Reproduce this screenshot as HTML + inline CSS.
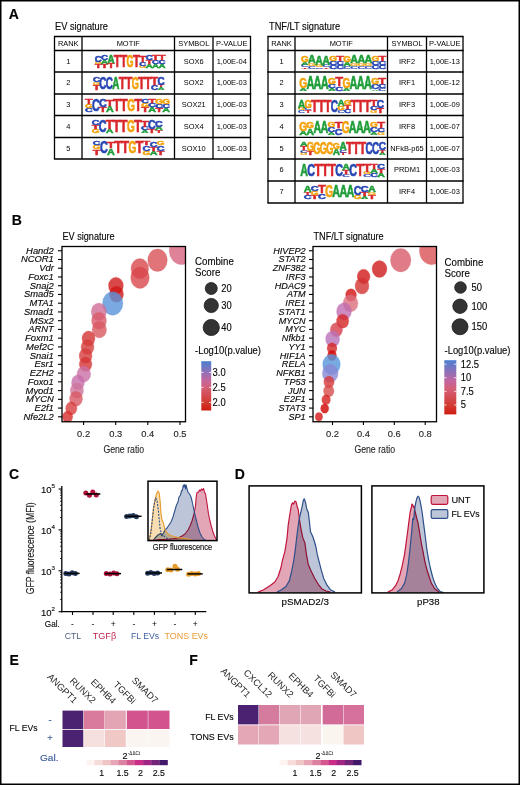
<!DOCTYPE html>
<html><head><meta charset="utf-8"><style>
html,body{margin:0;padding:0;background:#fff;}
svg{display:block;}
text{font-family:"Liberation Sans",sans-serif;}
.th{stroke:currentColor;stroke-width:0.25px;}
</style></head><body>
<svg width="520" height="785" viewBox="0 0 520 785">
<rect x="0" y="0" width="520" height="785" fill="#fff"/>
<rect x="0.75" y="0.75" width="518.50" height="783.50" fill="none" stroke="#000" stroke-width="1.5"/>
<text x="8.70" y="19.00" font-size="14" font-weight="bold" fill="#000" stroke="#000" stroke-width="0.14">A</text>
<text x="11.80" y="225.40" font-size="14" font-weight="bold" fill="#000" stroke="#000" stroke-width="0.14">B</text>
<text x="9.10" y="478.80" font-size="14" font-weight="bold" fill="#000" stroke="#000" stroke-width="0.14">C</text>
<text x="234.70" y="478.60" font-size="14" font-weight="bold" fill="#000" stroke="#000" stroke-width="0.14">D</text>
<text x="9.50" y="665.00" font-size="14" font-weight="bold" fill="#000" stroke="#000" stroke-width="0.14">E</text>
<text x="189.30" y="665.00" font-size="14" font-weight="bold" fill="#000" stroke="#000" stroke-width="0.14">F</text>
<text x="55.00" y="30.40" font-size="10.2" textLength="53.01" lengthAdjust="spacingAndGlyphs" stroke="#231f20" stroke-width="0.14">EV signature</text>
<line x1="53.90" y1="36.50" x2="251.10" y2="36.50" stroke="#000" stroke-width="1.3"/>
<line x1="53.90" y1="50.50" x2="251.10" y2="50.50" stroke="#000" stroke-width="1.3"/>
<line x1="53.90" y1="72.00" x2="251.10" y2="72.00" stroke="#000" stroke-width="1.3"/>
<line x1="53.90" y1="94.00" x2="251.10" y2="94.00" stroke="#000" stroke-width="1.3"/>
<line x1="53.90" y1="115.50" x2="251.10" y2="115.50" stroke="#000" stroke-width="1.3"/>
<line x1="53.90" y1="137.50" x2="251.10" y2="137.50" stroke="#000" stroke-width="1.3"/>
<line x1="53.90" y1="159.00" x2="251.10" y2="159.00" stroke="#000" stroke-width="1.3"/>
<line x1="54.50" y1="36.50" x2="54.50" y2="159.00" stroke="#000" stroke-width="1.3"/>
<line x1="82.00" y1="36.50" x2="82.00" y2="159.00" stroke="#000" stroke-width="1.3"/>
<line x1="174.50" y1="36.50" x2="174.50" y2="159.00" stroke="#000" stroke-width="1.3"/>
<line x1="213.00" y1="36.50" x2="213.00" y2="159.00" stroke="#000" stroke-width="1.3"/>
<line x1="250.50" y1="36.50" x2="250.50" y2="159.00" stroke="#000" stroke-width="1.3"/>
<text x="68.25" y="46.35" font-size="8.0" text-anchor="middle" textLength="20.70" lengthAdjust="spacingAndGlyphs" >RANK</text>
<text x="128.25" y="46.35" font-size="8.0" text-anchor="middle" textLength="23.17" lengthAdjust="spacingAndGlyphs" >MOTIF</text>
<text x="193.75" y="46.35" font-size="8.0" text-anchor="middle" textLength="31.05" lengthAdjust="spacingAndGlyphs" >SYMBOL</text>
<text x="231.75" y="46.35" font-size="8.0" text-anchor="middle" textLength="31.33" lengthAdjust="spacingAndGlyphs" >P-VALUE</text>
<text x="68.25" y="63.60" font-size="8.0" text-anchor="middle" textLength="4.14" lengthAdjust="spacingAndGlyphs" >1</text>
<text x="193.75" y="63.60" font-size="8.0" text-anchor="middle" textLength="19.88" lengthAdjust="spacingAndGlyphs" >SOX6</text>
<text x="231.75" y="63.60" font-size="8.0" text-anchor="middle" textLength="30.23" lengthAdjust="spacingAndGlyphs" >1,00E-04</text>
<text x="68.25" y="85.35" font-size="8.0" text-anchor="middle" textLength="4.14" lengthAdjust="spacingAndGlyphs" >2</text>
<text x="193.75" y="85.35" font-size="8.0" text-anchor="middle" textLength="19.88" lengthAdjust="spacingAndGlyphs" >SOX2</text>
<text x="231.75" y="85.35" font-size="8.0" text-anchor="middle" textLength="30.23" lengthAdjust="spacingAndGlyphs" >1,00E-03</text>
<text x="68.25" y="107.10" font-size="8.0" text-anchor="middle" textLength="4.14" lengthAdjust="spacingAndGlyphs" >3</text>
<text x="193.75" y="107.10" font-size="8.0" text-anchor="middle" textLength="24.02" lengthAdjust="spacingAndGlyphs" >SOX21</text>
<text x="231.75" y="107.10" font-size="8.0" text-anchor="middle" textLength="30.23" lengthAdjust="spacingAndGlyphs" >1,00E-03</text>
<text x="68.25" y="128.85" font-size="8.0" text-anchor="middle" textLength="4.14" lengthAdjust="spacingAndGlyphs" >4</text>
<text x="193.75" y="128.85" font-size="8.0" text-anchor="middle" textLength="19.88" lengthAdjust="spacingAndGlyphs" >SOX4</text>
<text x="231.75" y="128.85" font-size="8.0" text-anchor="middle" textLength="30.23" lengthAdjust="spacingAndGlyphs" >1,00E-03</text>
<text x="68.25" y="150.60" font-size="8.0" text-anchor="middle" textLength="4.14" lengthAdjust="spacingAndGlyphs" >5</text>
<text x="193.75" y="150.60" font-size="8.0" text-anchor="middle" textLength="24.02" lengthAdjust="spacingAndGlyphs" >SOX10</text>
<text x="231.75" y="150.60" font-size="8.0" text-anchor="middle" textLength="30.23" lengthAdjust="spacingAndGlyphs" >1,00E-03</text>
<text x="269.00" y="30.40" font-size="10.2" textLength="71.18" lengthAdjust="spacingAndGlyphs" stroke="#231f20" stroke-width="0.14">TNF/LT signature</text>
<line x1="267.40" y1="36.50" x2="463.60" y2="36.50" stroke="#000" stroke-width="1.3"/>
<line x1="267.40" y1="50.50" x2="463.60" y2="50.50" stroke="#000" stroke-width="1.3"/>
<line x1="267.40" y1="72.00" x2="463.60" y2="72.00" stroke="#000" stroke-width="1.3"/>
<line x1="267.40" y1="94.00" x2="463.60" y2="94.00" stroke="#000" stroke-width="1.3"/>
<line x1="267.40" y1="115.50" x2="463.60" y2="115.50" stroke="#000" stroke-width="1.3"/>
<line x1="267.40" y1="137.30" x2="463.60" y2="137.30" stroke="#000" stroke-width="1.3"/>
<line x1="267.40" y1="159.00" x2="463.60" y2="159.00" stroke="#000" stroke-width="1.3"/>
<line x1="267.40" y1="181.00" x2="463.60" y2="181.00" stroke="#000" stroke-width="1.3"/>
<line x1="267.40" y1="203.00" x2="463.60" y2="203.00" stroke="#000" stroke-width="1.3"/>
<line x1="268.00" y1="36.50" x2="268.00" y2="203.00" stroke="#000" stroke-width="1.3"/>
<line x1="295.00" y1="36.50" x2="295.00" y2="203.00" stroke="#000" stroke-width="1.3"/>
<line x1="387.50" y1="36.50" x2="387.50" y2="203.00" stroke="#000" stroke-width="1.3"/>
<line x1="426.50" y1="36.50" x2="426.50" y2="203.00" stroke="#000" stroke-width="1.3"/>
<line x1="463.00" y1="36.50" x2="463.00" y2="203.00" stroke="#000" stroke-width="1.3"/>
<text x="281.50" y="46.35" font-size="8.0" text-anchor="middle" textLength="20.70" lengthAdjust="spacingAndGlyphs" >RANK</text>
<text x="341.25" y="46.35" font-size="8.0" text-anchor="middle" textLength="23.17" lengthAdjust="spacingAndGlyphs" >MOTIF</text>
<text x="407.00" y="46.35" font-size="8.0" text-anchor="middle" textLength="31.05" lengthAdjust="spacingAndGlyphs" >SYMBOL</text>
<text x="444.75" y="46.35" font-size="8.0" text-anchor="middle" textLength="31.33" lengthAdjust="spacingAndGlyphs" >P-VALUE</text>
<text x="281.50" y="63.60" font-size="8.0" text-anchor="middle" textLength="4.14" lengthAdjust="spacingAndGlyphs" >1</text>
<text x="407.00" y="63.60" font-size="8.0" text-anchor="middle" textLength="16.14" lengthAdjust="spacingAndGlyphs" >IRF2</text>
<text x="444.75" y="63.60" font-size="8.0" text-anchor="middle" textLength="30.23" lengthAdjust="spacingAndGlyphs" >1,00E-13</text>
<text x="281.50" y="85.35" font-size="8.0" text-anchor="middle" textLength="4.14" lengthAdjust="spacingAndGlyphs" >2</text>
<text x="407.00" y="85.35" font-size="8.0" text-anchor="middle" textLength="16.14" lengthAdjust="spacingAndGlyphs" >IRF1</text>
<text x="444.75" y="85.35" font-size="8.0" text-anchor="middle" textLength="30.23" lengthAdjust="spacingAndGlyphs" >1,00E-12</text>
<text x="281.50" y="107.10" font-size="8.0" text-anchor="middle" textLength="4.14" lengthAdjust="spacingAndGlyphs" >3</text>
<text x="407.00" y="107.10" font-size="8.0" text-anchor="middle" textLength="16.14" lengthAdjust="spacingAndGlyphs" >IRF3</text>
<text x="444.75" y="107.10" font-size="8.0" text-anchor="middle" textLength="30.23" lengthAdjust="spacingAndGlyphs" >1,00E-09</text>
<text x="281.50" y="128.75" font-size="8.0" text-anchor="middle" textLength="4.14" lengthAdjust="spacingAndGlyphs" >4</text>
<text x="407.00" y="128.75" font-size="8.0" text-anchor="middle" textLength="16.14" lengthAdjust="spacingAndGlyphs" >IRF8</text>
<text x="444.75" y="128.75" font-size="8.0" text-anchor="middle" textLength="30.23" lengthAdjust="spacingAndGlyphs" >1,00E-07</text>
<text x="281.50" y="150.50" font-size="8.0" text-anchor="middle" textLength="4.14" lengthAdjust="spacingAndGlyphs" >5</text>
<text x="407.00" y="150.50" font-size="8.0" text-anchor="middle" textLength="33.53" lengthAdjust="spacingAndGlyphs" >NFkB-p65</text>
<text x="444.75" y="150.50" font-size="8.0" text-anchor="middle" textLength="30.23" lengthAdjust="spacingAndGlyphs" >1,00E-07</text>
<text x="281.50" y="172.35" font-size="8.0" text-anchor="middle" textLength="4.14" lengthAdjust="spacingAndGlyphs" >6</text>
<text x="407.00" y="172.35" font-size="8.0" text-anchor="middle" textLength="26.08" lengthAdjust="spacingAndGlyphs" >PRDM1</text>
<text x="444.75" y="172.35" font-size="8.0" text-anchor="middle" textLength="30.23" lengthAdjust="spacingAndGlyphs" >1,00E-03</text>
<text x="281.50" y="194.35" font-size="8.0" text-anchor="middle" textLength="4.14" lengthAdjust="spacingAndGlyphs" >7</text>
<text x="407.00" y="194.35" font-size="8.0" text-anchor="middle" textLength="16.14" lengthAdjust="spacingAndGlyphs" >IRF4</text>
<text x="444.75" y="194.35" font-size="8.0" text-anchor="middle" textLength="30.23" lengthAdjust="spacingAndGlyphs" >1,00E-03</text>
<text transform="translate(94.68,68.10) scale(1.149,0.526)" font-size="10" font-weight="bold" fill="#d8262c" stroke="#d8262c" stroke-width="0.55" vector-effect="non-scaling-stroke">T</text>
<text transform="translate(94.68,64.29) scale(0.902,0.350)" font-size="10" font-weight="bold" fill="#f3a20c" stroke="#f3a20c" stroke-width="0.25" vector-effect="non-scaling-stroke">G</text>
<text transform="translate(94.68,61.75) scale(0.972,0.876)" font-size="10" font-weight="bold" fill="#2747b4" stroke="#2747b4" stroke-width="0.55" vector-effect="non-scaling-stroke">C</text>
<text transform="translate(101.06,68.10) scale(1.149,0.526)" font-size="10" font-weight="bold" fill="#d8262c" stroke="#d8262c" stroke-width="0.55" vector-effect="non-scaling-stroke">T</text>
<text transform="translate(101.06,64.29) scale(0.972,0.526)" font-size="10" font-weight="bold" fill="#1f9d3a" stroke="#1f9d3a" stroke-width="0.55" vector-effect="non-scaling-stroke">A</text>
<text transform="translate(101.06,60.48) scale(0.972,0.701)" font-size="10" font-weight="bold" fill="#2747b4" stroke="#2747b4" stroke-width="0.55" vector-effect="non-scaling-stroke">C</text>
<text transform="translate(107.44,68.10) scale(1.149,0.701)" font-size="10" font-weight="bold" fill="#d8262c" stroke="#d8262c" stroke-width="0.55" vector-effect="non-scaling-stroke">T</text>
<text transform="translate(107.44,63.02) scale(0.972,1.051)" font-size="10" font-weight="bold" fill="#1f9d3a" stroke="#1f9d3a" stroke-width="0.55" vector-effect="non-scaling-stroke">A</text>
<text transform="translate(113.83,68.10) scale(0.902,0.058)" font-size="10" font-weight="bold" fill="#f3a20c" stroke="#f3a20c" stroke-width="0.25" vector-effect="non-scaling-stroke">G</text>
<text transform="translate(113.83,67.68) scale(0.972,0.058)" font-size="10" font-weight="bold" fill="#2747b4" stroke="#2747b4" stroke-width="0.25" vector-effect="non-scaling-stroke">C</text>
<text transform="translate(113.83,67.26) scale(0.972,0.058)" font-size="10" font-weight="bold" fill="#1f9d3a" stroke="#1f9d3a" stroke-width="0.25" vector-effect="non-scaling-stroke">A</text>
<text transform="translate(113.83,66.84) scale(1.149,1.577)" font-size="10" font-weight="bold" fill="#d8262c" stroke="#d8262c" stroke-width="0.55" vector-effect="non-scaling-stroke">T</text>
<text transform="translate(120.21,68.10) scale(0.902,0.058)" font-size="10" font-weight="bold" fill="#f3a20c" stroke="#f3a20c" stroke-width="0.25" vector-effect="non-scaling-stroke">G</text>
<text transform="translate(120.21,67.68) scale(0.972,0.058)" font-size="10" font-weight="bold" fill="#2747b4" stroke="#2747b4" stroke-width="0.25" vector-effect="non-scaling-stroke">C</text>
<text transform="translate(120.21,67.26) scale(0.972,0.058)" font-size="10" font-weight="bold" fill="#1f9d3a" stroke="#1f9d3a" stroke-width="0.25" vector-effect="non-scaling-stroke">A</text>
<text transform="translate(120.21,66.84) scale(1.149,1.577)" font-size="10" font-weight="bold" fill="#d8262c" stroke="#d8262c" stroke-width="0.55" vector-effect="non-scaling-stroke">T</text>
<text transform="translate(126.59,68.10) scale(1.149,0.058)" font-size="10" font-weight="bold" fill="#d8262c" stroke="#d8262c" stroke-width="0.25" vector-effect="non-scaling-stroke">T</text>
<text transform="translate(126.59,67.68) scale(0.972,0.058)" font-size="10" font-weight="bold" fill="#2747b4" stroke="#2747b4" stroke-width="0.25" vector-effect="non-scaling-stroke">C</text>
<text transform="translate(126.59,67.26) scale(0.972,0.058)" font-size="10" font-weight="bold" fill="#1f9d3a" stroke="#1f9d3a" stroke-width="0.25" vector-effect="non-scaling-stroke">A</text>
<text transform="translate(126.59,66.84) scale(0.902,1.577)" font-size="10" font-weight="bold" fill="#f3a20c" stroke="#f3a20c" stroke-width="0.55" vector-effect="non-scaling-stroke">G</text>
<text transform="translate(132.97,68.10) scale(0.902,0.058)" font-size="10" font-weight="bold" fill="#f3a20c" stroke="#f3a20c" stroke-width="0.25" vector-effect="non-scaling-stroke">G</text>
<text transform="translate(132.97,67.68) scale(0.972,0.058)" font-size="10" font-weight="bold" fill="#2747b4" stroke="#2747b4" stroke-width="0.25" vector-effect="non-scaling-stroke">C</text>
<text transform="translate(132.97,67.26) scale(0.972,0.058)" font-size="10" font-weight="bold" fill="#1f9d3a" stroke="#1f9d3a" stroke-width="0.25" vector-effect="non-scaling-stroke">A</text>
<text transform="translate(132.97,66.84) scale(1.149,1.577)" font-size="10" font-weight="bold" fill="#d8262c" stroke="#d8262c" stroke-width="0.55" vector-effect="non-scaling-stroke">T</text>
<text transform="translate(139.35,68.10) scale(0.902,0.350)" font-size="10" font-weight="bold" fill="#f3a20c" stroke="#f3a20c" stroke-width="0.25" vector-effect="non-scaling-stroke">G</text>
<text transform="translate(139.35,65.56) scale(0.972,0.526)" font-size="10" font-weight="bold" fill="#2747b4" stroke="#2747b4" stroke-width="0.55" vector-effect="non-scaling-stroke">C</text>
<text transform="translate(139.35,61.75) scale(1.149,0.876)" font-size="10" font-weight="bold" fill="#d8262c" stroke="#d8262c" stroke-width="0.55" vector-effect="non-scaling-stroke">T</text>
<text transform="translate(145.74,68.10) scale(0.972,0.526)" font-size="10" font-weight="bold" fill="#1f9d3a" stroke="#1f9d3a" stroke-width="0.55" vector-effect="non-scaling-stroke">A</text>
<text transform="translate(145.74,64.29) scale(1.149,0.526)" font-size="10" font-weight="bold" fill="#d8262c" stroke="#d8262c" stroke-width="0.55" vector-effect="non-scaling-stroke">T</text>
<text transform="translate(145.74,60.48) scale(0.972,0.701)" font-size="10" font-weight="bold" fill="#2747b4" stroke="#2747b4" stroke-width="0.55" vector-effect="non-scaling-stroke">C</text>
<text transform="translate(152.12,68.10) scale(0.972,0.526)" font-size="10" font-weight="bold" fill="#1f9d3a" stroke="#1f9d3a" stroke-width="0.55" vector-effect="non-scaling-stroke">A</text>
<text transform="translate(152.12,64.29) scale(0.972,0.526)" font-size="10" font-weight="bold" fill="#2747b4" stroke="#2747b4" stroke-width="0.55" vector-effect="non-scaling-stroke">C</text>
<text transform="translate(152.12,60.48) scale(1.149,0.701)" font-size="10" font-weight="bold" fill="#d8262c" stroke="#d8262c" stroke-width="0.55" vector-effect="non-scaling-stroke">T</text>
<text transform="translate(158.50,68.10) scale(0.972,0.526)" font-size="10" font-weight="bold" fill="#1f9d3a" stroke="#1f9d3a" stroke-width="0.55" vector-effect="non-scaling-stroke">A</text>
<text transform="translate(158.50,64.29) scale(0.972,0.526)" font-size="10" font-weight="bold" fill="#2747b4" stroke="#2747b4" stroke-width="0.55" vector-effect="non-scaling-stroke">C</text>
<text transform="translate(158.50,60.48) scale(1.149,0.701)" font-size="10" font-weight="bold" fill="#d8262c" stroke="#d8262c" stroke-width="0.55" vector-effect="non-scaling-stroke">T</text>
<text transform="translate(92.88,89.80) scale(1.164,0.701)" font-size="10" font-weight="bold" fill="#d8262c" stroke="#d8262c" stroke-width="0.55" vector-effect="non-scaling-stroke">T</text>
<text transform="translate(92.88,84.72) scale(0.914,0.350)" font-size="10" font-weight="bold" fill="#f3a20c" stroke="#f3a20c" stroke-width="0.25" vector-effect="non-scaling-stroke">G</text>
<text transform="translate(92.88,82.18) scale(0.985,0.701)" font-size="10" font-weight="bold" fill="#2747b4" stroke="#2747b4" stroke-width="0.55" vector-effect="non-scaling-stroke">C</text>
<text transform="translate(99.34,89.80) scale(1.164,0.058)" font-size="10" font-weight="bold" fill="#d8262c" stroke="#d8262c" stroke-width="0.25" vector-effect="non-scaling-stroke">T</text>
<text transform="translate(99.34,89.38) scale(0.914,0.058)" font-size="10" font-weight="bold" fill="#f3a20c" stroke="#f3a20c" stroke-width="0.25" vector-effect="non-scaling-stroke">G</text>
<text transform="translate(99.34,88.96) scale(0.985,0.058)" font-size="10" font-weight="bold" fill="#1f9d3a" stroke="#1f9d3a" stroke-width="0.25" vector-effect="non-scaling-stroke">A</text>
<text transform="translate(99.34,88.54) scale(0.985,1.577)" font-size="10" font-weight="bold" fill="#2747b4" stroke="#2747b4" stroke-width="0.55" vector-effect="non-scaling-stroke">C</text>
<text transform="translate(105.80,89.80) scale(1.164,0.058)" font-size="10" font-weight="bold" fill="#d8262c" stroke="#d8262c" stroke-width="0.25" vector-effect="non-scaling-stroke">T</text>
<text transform="translate(105.80,89.38) scale(0.914,0.058)" font-size="10" font-weight="bold" fill="#f3a20c" stroke="#f3a20c" stroke-width="0.25" vector-effect="non-scaling-stroke">G</text>
<text transform="translate(105.80,88.96) scale(0.985,0.058)" font-size="10" font-weight="bold" fill="#1f9d3a" stroke="#1f9d3a" stroke-width="0.25" vector-effect="non-scaling-stroke">A</text>
<text transform="translate(105.80,88.54) scale(0.985,1.577)" font-size="10" font-weight="bold" fill="#2747b4" stroke="#2747b4" stroke-width="0.55" vector-effect="non-scaling-stroke">C</text>
<text transform="translate(112.27,89.80) scale(1.164,0.058)" font-size="10" font-weight="bold" fill="#d8262c" stroke="#d8262c" stroke-width="0.25" vector-effect="non-scaling-stroke">T</text>
<text transform="translate(112.27,89.38) scale(0.914,0.058)" font-size="10" font-weight="bold" fill="#f3a20c" stroke="#f3a20c" stroke-width="0.25" vector-effect="non-scaling-stroke">G</text>
<text transform="translate(112.27,88.96) scale(0.985,0.058)" font-size="10" font-weight="bold" fill="#2747b4" stroke="#2747b4" stroke-width="0.25" vector-effect="non-scaling-stroke">C</text>
<text transform="translate(112.27,88.54) scale(0.985,1.577)" font-size="10" font-weight="bold" fill="#1f9d3a" stroke="#1f9d3a" stroke-width="0.55" vector-effect="non-scaling-stroke">A</text>
<text transform="translate(118.73,89.80) scale(0.914,0.058)" font-size="10" font-weight="bold" fill="#f3a20c" stroke="#f3a20c" stroke-width="0.25" vector-effect="non-scaling-stroke">G</text>
<text transform="translate(118.73,89.38) scale(0.985,0.058)" font-size="10" font-weight="bold" fill="#2747b4" stroke="#2747b4" stroke-width="0.25" vector-effect="non-scaling-stroke">C</text>
<text transform="translate(118.73,88.96) scale(0.985,0.058)" font-size="10" font-weight="bold" fill="#1f9d3a" stroke="#1f9d3a" stroke-width="0.25" vector-effect="non-scaling-stroke">A</text>
<text transform="translate(118.73,88.54) scale(1.164,1.577)" font-size="10" font-weight="bold" fill="#d8262c" stroke="#d8262c" stroke-width="0.55" vector-effect="non-scaling-stroke">T</text>
<text transform="translate(125.20,89.80) scale(0.914,0.058)" font-size="10" font-weight="bold" fill="#f3a20c" stroke="#f3a20c" stroke-width="0.25" vector-effect="non-scaling-stroke">G</text>
<text transform="translate(125.20,89.38) scale(0.985,0.058)" font-size="10" font-weight="bold" fill="#2747b4" stroke="#2747b4" stroke-width="0.25" vector-effect="non-scaling-stroke">C</text>
<text transform="translate(125.20,88.96) scale(0.985,0.058)" font-size="10" font-weight="bold" fill="#1f9d3a" stroke="#1f9d3a" stroke-width="0.25" vector-effect="non-scaling-stroke">A</text>
<text transform="translate(125.20,88.54) scale(1.164,1.577)" font-size="10" font-weight="bold" fill="#d8262c" stroke="#d8262c" stroke-width="0.55" vector-effect="non-scaling-stroke">T</text>
<text transform="translate(131.66,89.80) scale(1.164,0.058)" font-size="10" font-weight="bold" fill="#d8262c" stroke="#d8262c" stroke-width="0.25" vector-effect="non-scaling-stroke">T</text>
<text transform="translate(131.66,89.38) scale(0.985,0.058)" font-size="10" font-weight="bold" fill="#2747b4" stroke="#2747b4" stroke-width="0.25" vector-effect="non-scaling-stroke">C</text>
<text transform="translate(131.66,88.96) scale(0.985,0.058)" font-size="10" font-weight="bold" fill="#1f9d3a" stroke="#1f9d3a" stroke-width="0.25" vector-effect="non-scaling-stroke">A</text>
<text transform="translate(131.66,88.54) scale(0.914,1.577)" font-size="10" font-weight="bold" fill="#f3a20c" stroke="#f3a20c" stroke-width="0.55" vector-effect="non-scaling-stroke">G</text>
<text transform="translate(138.12,89.80) scale(0.914,0.058)" font-size="10" font-weight="bold" fill="#f3a20c" stroke="#f3a20c" stroke-width="0.25" vector-effect="non-scaling-stroke">G</text>
<text transform="translate(138.12,89.38) scale(0.985,0.058)" font-size="10" font-weight="bold" fill="#2747b4" stroke="#2747b4" stroke-width="0.25" vector-effect="non-scaling-stroke">C</text>
<text transform="translate(138.12,88.96) scale(0.985,0.058)" font-size="10" font-weight="bold" fill="#1f9d3a" stroke="#1f9d3a" stroke-width="0.25" vector-effect="non-scaling-stroke">A</text>
<text transform="translate(138.12,88.54) scale(1.164,1.577)" font-size="10" font-weight="bold" fill="#d8262c" stroke="#d8262c" stroke-width="0.55" vector-effect="non-scaling-stroke">T</text>
<text transform="translate(144.59,89.80) scale(0.914,0.058)" font-size="10" font-weight="bold" fill="#f3a20c" stroke="#f3a20c" stroke-width="0.25" vector-effect="non-scaling-stroke">G</text>
<text transform="translate(144.59,89.38) scale(0.985,0.058)" font-size="10" font-weight="bold" fill="#2747b4" stroke="#2747b4" stroke-width="0.25" vector-effect="non-scaling-stroke">C</text>
<text transform="translate(144.59,88.96) scale(0.985,0.058)" font-size="10" font-weight="bold" fill="#1f9d3a" stroke="#1f9d3a" stroke-width="0.25" vector-effect="non-scaling-stroke">A</text>
<text transform="translate(144.59,88.54) scale(1.164,1.577)" font-size="10" font-weight="bold" fill="#d8262c" stroke="#d8262c" stroke-width="0.55" vector-effect="non-scaling-stroke">T</text>
<text transform="translate(151.05,89.80) scale(0.985,0.701)" font-size="10" font-weight="bold" fill="#2747b4" stroke="#2747b4" stroke-width="0.55" vector-effect="non-scaling-stroke">C</text>
<text transform="translate(151.05,84.72) scale(1.164,1.051)" font-size="10" font-weight="bold" fill="#d8262c" stroke="#d8262c" stroke-width="0.55" vector-effect="non-scaling-stroke">T</text>
<text transform="translate(157.51,89.80) scale(0.985,0.350)" font-size="10" font-weight="bold" fill="#1f9d3a" stroke="#1f9d3a" stroke-width="0.25" vector-effect="non-scaling-stroke">A</text>
<text transform="translate(157.51,87.26) scale(1.164,0.350)" font-size="10" font-weight="bold" fill="#d8262c" stroke="#d8262c" stroke-width="0.25" vector-effect="non-scaling-stroke">T</text>
<text transform="translate(157.51,84.72) scale(0.985,1.051)" font-size="10" font-weight="bold" fill="#2747b4" stroke="#2747b4" stroke-width="0.55" vector-effect="non-scaling-stroke">C</text>
<text transform="translate(84.95,112.00) scale(1.072,0.538)" font-size="10" font-weight="bold" fill="#2747b4" stroke="#2747b4" stroke-width="0.55" vector-effect="non-scaling-stroke">C</text>
<text transform="translate(84.95,108.10) scale(0.994,0.538)" font-size="10" font-weight="bold" fill="#f3a20c" stroke="#f3a20c" stroke-width="0.55" vector-effect="non-scaling-stroke">G</text>
<text transform="translate(84.95,104.20) scale(1.266,0.717)" font-size="10" font-weight="bold" fill="#d8262c" stroke="#d8262c" stroke-width="0.55" vector-effect="non-scaling-stroke">T</text>
<text transform="translate(91.98,112.00) scale(1.266,0.059)" font-size="10" font-weight="bold" fill="#d8262c" stroke="#d8262c" stroke-width="0.25" vector-effect="non-scaling-stroke">T</text>
<text transform="translate(91.98,111.57) scale(0.994,0.059)" font-size="10" font-weight="bold" fill="#f3a20c" stroke="#f3a20c" stroke-width="0.25" vector-effect="non-scaling-stroke">G</text>
<text transform="translate(91.98,111.14) scale(1.072,0.059)" font-size="10" font-weight="bold" fill="#1f9d3a" stroke="#1f9d3a" stroke-width="0.25" vector-effect="non-scaling-stroke">A</text>
<text transform="translate(91.98,110.71) scale(1.072,1.614)" font-size="10" font-weight="bold" fill="#2747b4" stroke="#2747b4" stroke-width="0.55" vector-effect="non-scaling-stroke">C</text>
<text transform="translate(99.01,112.00) scale(1.266,0.717)" font-size="10" font-weight="bold" fill="#d8262c" stroke="#d8262c" stroke-width="0.55" vector-effect="non-scaling-stroke">T</text>
<text transform="translate(99.01,106.80) scale(1.072,1.076)" font-size="10" font-weight="bold" fill="#2747b4" stroke="#2747b4" stroke-width="0.55" vector-effect="non-scaling-stroke">C</text>
<text transform="translate(106.05,112.00) scale(1.072,0.897)" font-size="10" font-weight="bold" fill="#1f9d3a" stroke="#1f9d3a" stroke-width="0.55" vector-effect="non-scaling-stroke">A</text>
<text transform="translate(106.05,105.50) scale(1.266,0.897)" font-size="10" font-weight="bold" fill="#d8262c" stroke="#d8262c" stroke-width="0.55" vector-effect="non-scaling-stroke">T</text>
<text transform="translate(113.08,112.00) scale(0.994,0.059)" font-size="10" font-weight="bold" fill="#f3a20c" stroke="#f3a20c" stroke-width="0.25" vector-effect="non-scaling-stroke">G</text>
<text transform="translate(113.08,111.57) scale(1.072,0.059)" font-size="10" font-weight="bold" fill="#2747b4" stroke="#2747b4" stroke-width="0.25" vector-effect="non-scaling-stroke">C</text>
<text transform="translate(113.08,111.14) scale(1.072,0.059)" font-size="10" font-weight="bold" fill="#1f9d3a" stroke="#1f9d3a" stroke-width="0.25" vector-effect="non-scaling-stroke">A</text>
<text transform="translate(113.08,110.71) scale(1.266,1.614)" font-size="10" font-weight="bold" fill="#d8262c" stroke="#d8262c" stroke-width="0.55" vector-effect="non-scaling-stroke">T</text>
<text transform="translate(120.11,112.00) scale(0.994,0.059)" font-size="10" font-weight="bold" fill="#f3a20c" stroke="#f3a20c" stroke-width="0.25" vector-effect="non-scaling-stroke">G</text>
<text transform="translate(120.11,111.57) scale(1.072,0.059)" font-size="10" font-weight="bold" fill="#2747b4" stroke="#2747b4" stroke-width="0.25" vector-effect="non-scaling-stroke">C</text>
<text transform="translate(120.11,111.14) scale(1.072,0.059)" font-size="10" font-weight="bold" fill="#1f9d3a" stroke="#1f9d3a" stroke-width="0.25" vector-effect="non-scaling-stroke">A</text>
<text transform="translate(120.11,110.71) scale(1.266,1.614)" font-size="10" font-weight="bold" fill="#d8262c" stroke="#d8262c" stroke-width="0.55" vector-effect="non-scaling-stroke">T</text>
<text transform="translate(127.15,112.00) scale(1.266,0.059)" font-size="10" font-weight="bold" fill="#d8262c" stroke="#d8262c" stroke-width="0.25" vector-effect="non-scaling-stroke">T</text>
<text transform="translate(127.15,111.57) scale(1.072,0.059)" font-size="10" font-weight="bold" fill="#2747b4" stroke="#2747b4" stroke-width="0.25" vector-effect="non-scaling-stroke">C</text>
<text transform="translate(127.15,111.14) scale(1.072,0.059)" font-size="10" font-weight="bold" fill="#1f9d3a" stroke="#1f9d3a" stroke-width="0.25" vector-effect="non-scaling-stroke">A</text>
<text transform="translate(127.15,110.71) scale(0.994,1.614)" font-size="10" font-weight="bold" fill="#f3a20c" stroke="#f3a20c" stroke-width="0.55" vector-effect="non-scaling-stroke">G</text>
<text transform="translate(134.18,112.00) scale(0.994,0.059)" font-size="10" font-weight="bold" fill="#f3a20c" stroke="#f3a20c" stroke-width="0.25" vector-effect="non-scaling-stroke">G</text>
<text transform="translate(134.18,111.57) scale(1.072,0.059)" font-size="10" font-weight="bold" fill="#2747b4" stroke="#2747b4" stroke-width="0.25" vector-effect="non-scaling-stroke">C</text>
<text transform="translate(134.18,111.14) scale(1.072,0.059)" font-size="10" font-weight="bold" fill="#1f9d3a" stroke="#1f9d3a" stroke-width="0.25" vector-effect="non-scaling-stroke">A</text>
<text transform="translate(134.18,110.71) scale(1.266,1.614)" font-size="10" font-weight="bold" fill="#d8262c" stroke="#d8262c" stroke-width="0.55" vector-effect="non-scaling-stroke">T</text>
<text transform="translate(141.22,112.00) scale(1.266,0.717)" font-size="10" font-weight="bold" fill="#d8262c" stroke="#d8262c" stroke-width="0.55" vector-effect="non-scaling-stroke">T</text>
<text transform="translate(141.22,106.80) scale(0.994,0.538)" font-size="10" font-weight="bold" fill="#f3a20c" stroke="#f3a20c" stroke-width="0.55" vector-effect="non-scaling-stroke">G</text>
<text transform="translate(141.22,102.90) scale(1.072,0.538)" font-size="10" font-weight="bold" fill="#2747b4" stroke="#2747b4" stroke-width="0.55" vector-effect="non-scaling-stroke">C</text>
<text transform="translate(148.25,112.00) scale(1.072,0.717)" font-size="10" font-weight="bold" fill="#1f9d3a" stroke="#1f9d3a" stroke-width="0.55" vector-effect="non-scaling-stroke">A</text>
<text transform="translate(148.25,106.80) scale(1.072,0.538)" font-size="10" font-weight="bold" fill="#2747b4" stroke="#2747b4" stroke-width="0.55" vector-effect="non-scaling-stroke">C</text>
<text transform="translate(148.25,102.90) scale(1.266,0.538)" font-size="10" font-weight="bold" fill="#d8262c" stroke="#d8262c" stroke-width="0.55" vector-effect="non-scaling-stroke">T</text>
<text transform="translate(155.28,112.00) scale(1.266,0.538)" font-size="10" font-weight="bold" fill="#d8262c" stroke="#d8262c" stroke-width="0.55" vector-effect="non-scaling-stroke">T</text>
<text transform="translate(155.28,108.10) scale(1.072,0.538)" font-size="10" font-weight="bold" fill="#2747b4" stroke="#2747b4" stroke-width="0.55" vector-effect="non-scaling-stroke">C</text>
<text transform="translate(155.28,104.20) scale(0.994,0.717)" font-size="10" font-weight="bold" fill="#f3a20c" stroke="#f3a20c" stroke-width="0.55" vector-effect="non-scaling-stroke">G</text>
<text transform="translate(162.31,112.00) scale(1.072,0.538)" font-size="10" font-weight="bold" fill="#1f9d3a" stroke="#1f9d3a" stroke-width="0.55" vector-effect="non-scaling-stroke">A</text>
<text transform="translate(162.31,108.10) scale(1.072,0.538)" font-size="10" font-weight="bold" fill="#2747b4" stroke="#2747b4" stroke-width="0.55" vector-effect="non-scaling-stroke">C</text>
<text transform="translate(162.31,104.20) scale(0.994,0.717)" font-size="10" font-weight="bold" fill="#f3a20c" stroke="#f3a20c" stroke-width="0.55" vector-effect="non-scaling-stroke">G</text>
<text transform="translate(91.65,132.90) scale(0.997,0.526)" font-size="10" font-weight="bold" fill="#f3a20c" stroke="#f3a20c" stroke-width="0.55" vector-effect="non-scaling-stroke">G</text>
<text transform="translate(91.65,129.09) scale(1.269,0.526)" font-size="10" font-weight="bold" fill="#d8262c" stroke="#d8262c" stroke-width="0.55" vector-effect="non-scaling-stroke">T</text>
<text transform="translate(91.65,125.28) scale(1.074,0.701)" font-size="10" font-weight="bold" fill="#2747b4" stroke="#2747b4" stroke-width="0.55" vector-effect="non-scaling-stroke">C</text>
<text transform="translate(98.70,132.90) scale(1.269,0.058)" font-size="10" font-weight="bold" fill="#d8262c" stroke="#d8262c" stroke-width="0.25" vector-effect="non-scaling-stroke">T</text>
<text transform="translate(98.70,132.48) scale(0.997,0.058)" font-size="10" font-weight="bold" fill="#f3a20c" stroke="#f3a20c" stroke-width="0.25" vector-effect="non-scaling-stroke">G</text>
<text transform="translate(98.70,132.06) scale(1.074,0.058)" font-size="10" font-weight="bold" fill="#1f9d3a" stroke="#1f9d3a" stroke-width="0.25" vector-effect="non-scaling-stroke">A</text>
<text transform="translate(98.70,131.64) scale(1.074,1.577)" font-size="10" font-weight="bold" fill="#2747b4" stroke="#2747b4" stroke-width="0.55" vector-effect="non-scaling-stroke">C</text>
<text transform="translate(105.75,132.90) scale(1.074,0.526)" font-size="10" font-weight="bold" fill="#1f9d3a" stroke="#1f9d3a" stroke-width="0.55" vector-effect="non-scaling-stroke">A</text>
<text transform="translate(105.75,129.09) scale(1.269,1.226)" font-size="10" font-weight="bold" fill="#d8262c" stroke="#d8262c" stroke-width="0.55" vector-effect="non-scaling-stroke">T</text>
<text transform="translate(112.80,132.90) scale(0.997,0.058)" font-size="10" font-weight="bold" fill="#f3a20c" stroke="#f3a20c" stroke-width="0.25" vector-effect="non-scaling-stroke">G</text>
<text transform="translate(112.80,132.48) scale(1.074,0.058)" font-size="10" font-weight="bold" fill="#2747b4" stroke="#2747b4" stroke-width="0.25" vector-effect="non-scaling-stroke">C</text>
<text transform="translate(112.80,132.06) scale(1.074,0.058)" font-size="10" font-weight="bold" fill="#1f9d3a" stroke="#1f9d3a" stroke-width="0.25" vector-effect="non-scaling-stroke">A</text>
<text transform="translate(112.80,131.64) scale(1.269,1.577)" font-size="10" font-weight="bold" fill="#d8262c" stroke="#d8262c" stroke-width="0.55" vector-effect="non-scaling-stroke">T</text>
<text transform="translate(119.85,132.90) scale(0.997,0.058)" font-size="10" font-weight="bold" fill="#f3a20c" stroke="#f3a20c" stroke-width="0.25" vector-effect="non-scaling-stroke">G</text>
<text transform="translate(119.85,132.48) scale(1.074,0.058)" font-size="10" font-weight="bold" fill="#2747b4" stroke="#2747b4" stroke-width="0.25" vector-effect="non-scaling-stroke">C</text>
<text transform="translate(119.85,132.06) scale(1.074,0.058)" font-size="10" font-weight="bold" fill="#1f9d3a" stroke="#1f9d3a" stroke-width="0.25" vector-effect="non-scaling-stroke">A</text>
<text transform="translate(119.85,131.64) scale(1.269,1.577)" font-size="10" font-weight="bold" fill="#d8262c" stroke="#d8262c" stroke-width="0.55" vector-effect="non-scaling-stroke">T</text>
<text transform="translate(126.90,132.90) scale(1.269,0.058)" font-size="10" font-weight="bold" fill="#d8262c" stroke="#d8262c" stroke-width="0.25" vector-effect="non-scaling-stroke">T</text>
<text transform="translate(126.90,132.48) scale(1.074,0.058)" font-size="10" font-weight="bold" fill="#2747b4" stroke="#2747b4" stroke-width="0.25" vector-effect="non-scaling-stroke">C</text>
<text transform="translate(126.90,132.06) scale(1.074,0.058)" font-size="10" font-weight="bold" fill="#1f9d3a" stroke="#1f9d3a" stroke-width="0.25" vector-effect="non-scaling-stroke">A</text>
<text transform="translate(126.90,131.64) scale(0.997,1.577)" font-size="10" font-weight="bold" fill="#f3a20c" stroke="#f3a20c" stroke-width="0.55" vector-effect="non-scaling-stroke">G</text>
<text transform="translate(133.95,132.90) scale(0.997,0.058)" font-size="10" font-weight="bold" fill="#f3a20c" stroke="#f3a20c" stroke-width="0.25" vector-effect="non-scaling-stroke">G</text>
<text transform="translate(133.95,132.48) scale(1.074,0.058)" font-size="10" font-weight="bold" fill="#2747b4" stroke="#2747b4" stroke-width="0.25" vector-effect="non-scaling-stroke">C</text>
<text transform="translate(133.95,132.06) scale(1.074,0.058)" font-size="10" font-weight="bold" fill="#1f9d3a" stroke="#1f9d3a" stroke-width="0.25" vector-effect="non-scaling-stroke">A</text>
<text transform="translate(133.95,131.64) scale(1.269,1.577)" font-size="10" font-weight="bold" fill="#d8262c" stroke="#d8262c" stroke-width="0.55" vector-effect="non-scaling-stroke">T</text>
<text transform="translate(141.00,132.90) scale(1.074,0.350)" font-size="10" font-weight="bold" fill="#1f9d3a" stroke="#1f9d3a" stroke-width="0.25" vector-effect="non-scaling-stroke">A</text>
<text transform="translate(141.00,130.36) scale(1.074,0.526)" font-size="10" font-weight="bold" fill="#2747b4" stroke="#2747b4" stroke-width="0.55" vector-effect="non-scaling-stroke">C</text>
<text transform="translate(141.00,126.55) scale(1.269,0.876)" font-size="10" font-weight="bold" fill="#d8262c" stroke="#d8262c" stroke-width="0.55" vector-effect="non-scaling-stroke">T</text>
<text transform="translate(148.05,132.90) scale(1.269,0.526)" font-size="10" font-weight="bold" fill="#d8262c" stroke="#d8262c" stroke-width="0.55" vector-effect="non-scaling-stroke">T</text>
<text transform="translate(148.05,129.09) scale(1.074,1.226)" font-size="10" font-weight="bold" fill="#2747b4" stroke="#2747b4" stroke-width="0.55" vector-effect="non-scaling-stroke">C</text>
<text transform="translate(155.10,132.90) scale(1.269,0.350)" font-size="10" font-weight="bold" fill="#d8262c" stroke="#d8262c" stroke-width="0.25" vector-effect="non-scaling-stroke">T</text>
<text transform="translate(155.10,130.36) scale(1.074,0.526)" font-size="10" font-weight="bold" fill="#1f9d3a" stroke="#1f9d3a" stroke-width="0.55" vector-effect="non-scaling-stroke">A</text>
<text transform="translate(155.10,126.55) scale(1.074,0.876)" font-size="10" font-weight="bold" fill="#2747b4" stroke="#2747b4" stroke-width="0.55" vector-effect="non-scaling-stroke">C</text>
<text transform="translate(92.84,154.60) scale(1.280,0.728)" font-size="10" font-weight="bold" fill="#d8262c" stroke="#d8262c" stroke-width="0.55" vector-effect="non-scaling-stroke">T</text>
<text transform="translate(92.84,149.32) scale(1.005,0.546)" font-size="10" font-weight="bold" fill="#f3a20c" stroke="#f3a20c" stroke-width="0.55" vector-effect="non-scaling-stroke">G</text>
<text transform="translate(92.84,145.36) scale(1.083,0.546)" font-size="10" font-weight="bold" fill="#2747b4" stroke="#2747b4" stroke-width="0.55" vector-effect="non-scaling-stroke">C</text>
<text transform="translate(99.95,154.60) scale(1.280,0.060)" font-size="10" font-weight="bold" fill="#d8262c" stroke="#d8262c" stroke-width="0.25" vector-effect="non-scaling-stroke">T</text>
<text transform="translate(99.95,154.16) scale(1.005,0.060)" font-size="10" font-weight="bold" fill="#f3a20c" stroke="#f3a20c" stroke-width="0.25" vector-effect="non-scaling-stroke">G</text>
<text transform="translate(99.95,153.73) scale(1.083,0.060)" font-size="10" font-weight="bold" fill="#1f9d3a" stroke="#1f9d3a" stroke-width="0.25" vector-effect="non-scaling-stroke">A</text>
<text transform="translate(99.95,153.29) scale(1.083,1.639)" font-size="10" font-weight="bold" fill="#2747b4" stroke="#2747b4" stroke-width="0.55" vector-effect="non-scaling-stroke">C</text>
<text transform="translate(107.06,154.60) scale(1.083,0.910)" font-size="10" font-weight="bold" fill="#1f9d3a" stroke="#1f9d3a" stroke-width="0.55" vector-effect="non-scaling-stroke">A</text>
<text transform="translate(107.06,148.00) scale(1.280,0.910)" font-size="10" font-weight="bold" fill="#d8262c" stroke="#d8262c" stroke-width="0.55" vector-effect="non-scaling-stroke">T</text>
<text transform="translate(114.17,154.60) scale(1.005,0.060)" font-size="10" font-weight="bold" fill="#f3a20c" stroke="#f3a20c" stroke-width="0.25" vector-effect="non-scaling-stroke">G</text>
<text transform="translate(114.17,154.16) scale(1.083,0.060)" font-size="10" font-weight="bold" fill="#2747b4" stroke="#2747b4" stroke-width="0.25" vector-effect="non-scaling-stroke">C</text>
<text transform="translate(114.17,153.73) scale(1.083,0.060)" font-size="10" font-weight="bold" fill="#1f9d3a" stroke="#1f9d3a" stroke-width="0.25" vector-effect="non-scaling-stroke">A</text>
<text transform="translate(114.17,153.29) scale(1.280,1.639)" font-size="10" font-weight="bold" fill="#d8262c" stroke="#d8262c" stroke-width="0.55" vector-effect="non-scaling-stroke">T</text>
<text transform="translate(121.28,154.60) scale(1.005,0.060)" font-size="10" font-weight="bold" fill="#f3a20c" stroke="#f3a20c" stroke-width="0.25" vector-effect="non-scaling-stroke">G</text>
<text transform="translate(121.28,154.16) scale(1.083,0.060)" font-size="10" font-weight="bold" fill="#2747b4" stroke="#2747b4" stroke-width="0.25" vector-effect="non-scaling-stroke">C</text>
<text transform="translate(121.28,153.73) scale(1.083,0.060)" font-size="10" font-weight="bold" fill="#1f9d3a" stroke="#1f9d3a" stroke-width="0.25" vector-effect="non-scaling-stroke">A</text>
<text transform="translate(121.28,153.29) scale(1.280,1.639)" font-size="10" font-weight="bold" fill="#d8262c" stroke="#d8262c" stroke-width="0.55" vector-effect="non-scaling-stroke">T</text>
<text transform="translate(128.39,154.60) scale(1.280,0.060)" font-size="10" font-weight="bold" fill="#d8262c" stroke="#d8262c" stroke-width="0.25" vector-effect="non-scaling-stroke">T</text>
<text transform="translate(128.39,154.16) scale(1.083,0.060)" font-size="10" font-weight="bold" fill="#2747b4" stroke="#2747b4" stroke-width="0.25" vector-effect="non-scaling-stroke">C</text>
<text transform="translate(128.39,153.73) scale(1.083,0.060)" font-size="10" font-weight="bold" fill="#1f9d3a" stroke="#1f9d3a" stroke-width="0.25" vector-effect="non-scaling-stroke">A</text>
<text transform="translate(128.39,153.29) scale(1.005,1.639)" font-size="10" font-weight="bold" fill="#f3a20c" stroke="#f3a20c" stroke-width="0.55" vector-effect="non-scaling-stroke">G</text>
<text transform="translate(135.50,154.60) scale(1.005,0.060)" font-size="10" font-weight="bold" fill="#f3a20c" stroke="#f3a20c" stroke-width="0.25" vector-effect="non-scaling-stroke">G</text>
<text transform="translate(135.50,154.16) scale(1.083,0.060)" font-size="10" font-weight="bold" fill="#2747b4" stroke="#2747b4" stroke-width="0.25" vector-effect="non-scaling-stroke">C</text>
<text transform="translate(135.50,153.73) scale(1.083,0.060)" font-size="10" font-weight="bold" fill="#1f9d3a" stroke="#1f9d3a" stroke-width="0.25" vector-effect="non-scaling-stroke">A</text>
<text transform="translate(135.50,153.29) scale(1.280,1.639)" font-size="10" font-weight="bold" fill="#d8262c" stroke="#d8262c" stroke-width="0.55" vector-effect="non-scaling-stroke">T</text>
<text transform="translate(142.61,154.60) scale(1.005,0.546)" font-size="10" font-weight="bold" fill="#f3a20c" stroke="#f3a20c" stroke-width="0.55" vector-effect="non-scaling-stroke">G</text>
<text transform="translate(142.61,150.64) scale(1.083,0.728)" font-size="10" font-weight="bold" fill="#2747b4" stroke="#2747b4" stroke-width="0.55" vector-effect="non-scaling-stroke">C</text>
<text transform="translate(142.61,145.36) scale(1.280,0.546)" font-size="10" font-weight="bold" fill="#d8262c" stroke="#d8262c" stroke-width="0.55" vector-effect="non-scaling-stroke">T</text>
<text transform="translate(149.72,154.60) scale(1.083,0.546)" font-size="10" font-weight="bold" fill="#1f9d3a" stroke="#1f9d3a" stroke-width="0.55" vector-effect="non-scaling-stroke">A</text>
<text transform="translate(149.72,150.64) scale(1.280,0.546)" font-size="10" font-weight="bold" fill="#d8262c" stroke="#d8262c" stroke-width="0.55" vector-effect="non-scaling-stroke">T</text>
<text transform="translate(149.72,146.68) scale(1.083,0.728)" font-size="10" font-weight="bold" fill="#2747b4" stroke="#2747b4" stroke-width="0.55" vector-effect="non-scaling-stroke">C</text>
<text transform="translate(156.83,154.60) scale(1.280,0.546)" font-size="10" font-weight="bold" fill="#d8262c" stroke="#d8262c" stroke-width="0.55" vector-effect="non-scaling-stroke">T</text>
<text transform="translate(156.83,150.64) scale(1.083,0.728)" font-size="10" font-weight="bold" fill="#2747b4" stroke="#2747b4" stroke-width="0.55" vector-effect="non-scaling-stroke">C</text>
<text transform="translate(156.83,145.36) scale(1.005,0.546)" font-size="10" font-weight="bold" fill="#f3a20c" stroke="#f3a20c" stroke-width="0.55" vector-effect="non-scaling-stroke">G</text>
<text transform="translate(301.05,68.60) scale(1.268,0.186)" font-size="10" font-weight="bold" fill="#d8262c" stroke="#d8262c" stroke-width="0.25" vector-effect="non-scaling-stroke">T</text>
<text transform="translate(301.05,67.25) scale(1.073,0.372)" font-size="10" font-weight="bold" fill="#2747b4" stroke="#2747b4" stroke-width="0.25" vector-effect="non-scaling-stroke">C</text>
<text transform="translate(301.05,64.55) scale(1.073,0.372)" font-size="10" font-weight="bold" fill="#1f9d3a" stroke="#1f9d3a" stroke-width="0.25" vector-effect="non-scaling-stroke">A</text>
<text transform="translate(301.05,61.85) scale(0.996,0.931)" font-size="10" font-weight="bold" fill="#f3a20c" stroke="#f3a20c" stroke-width="0.55" vector-effect="non-scaling-stroke">G</text>
<text transform="translate(308.09,68.60) scale(1.073,0.372)" font-size="10" font-weight="bold" fill="#2747b4" stroke="#2747b4" stroke-width="0.25" vector-effect="non-scaling-stroke">C</text>
<text transform="translate(308.09,65.90) scale(0.996,0.372)" font-size="10" font-weight="bold" fill="#f3a20c" stroke="#f3a20c" stroke-width="0.25" vector-effect="non-scaling-stroke">G</text>
<text transform="translate(308.09,63.20) scale(1.073,1.117)" font-size="10" font-weight="bold" fill="#1f9d3a" stroke="#1f9d3a" stroke-width="0.55" vector-effect="non-scaling-stroke">A</text>
<text transform="translate(315.13,68.60) scale(1.073,0.186)" font-size="10" font-weight="bold" fill="#2747b4" stroke="#2747b4" stroke-width="0.25" vector-effect="non-scaling-stroke">C</text>
<text transform="translate(315.13,67.25) scale(0.996,0.372)" font-size="10" font-weight="bold" fill="#f3a20c" stroke="#f3a20c" stroke-width="0.25" vector-effect="non-scaling-stroke">G</text>
<text transform="translate(315.13,64.55) scale(1.073,1.303)" font-size="10" font-weight="bold" fill="#1f9d3a" stroke="#1f9d3a" stroke-width="0.55" vector-effect="non-scaling-stroke">A</text>
<text transform="translate(322.17,68.60) scale(1.268,0.186)" font-size="10" font-weight="bold" fill="#d8262c" stroke="#d8262c" stroke-width="0.25" vector-effect="non-scaling-stroke">T</text>
<text transform="translate(322.17,67.25) scale(1.073,0.372)" font-size="10" font-weight="bold" fill="#2747b4" stroke="#2747b4" stroke-width="0.25" vector-effect="non-scaling-stroke">C</text>
<text transform="translate(322.17,64.55) scale(1.073,1.303)" font-size="10" font-weight="bold" fill="#1f9d3a" stroke="#1f9d3a" stroke-width="0.55" vector-effect="non-scaling-stroke">A</text>
<text transform="translate(329.21,68.60) scale(1.073,0.559)" font-size="10" font-weight="bold" fill="#2747b4" stroke="#2747b4" stroke-width="0.55" vector-effect="non-scaling-stroke">C</text>
<text transform="translate(329.21,64.55) scale(1.073,0.559)" font-size="10" font-weight="bold" fill="#2747b4" stroke="#2747b4" stroke-width="0.55" vector-effect="non-scaling-stroke">C</text>
<text transform="translate(329.21,60.50) scale(0.996,0.745)" font-size="10" font-weight="bold" fill="#f3a20c" stroke="#f3a20c" stroke-width="0.55" vector-effect="non-scaling-stroke">G</text>
<text transform="translate(336.26,68.60) scale(1.073,0.559)" font-size="10" font-weight="bold" fill="#2747b4" stroke="#2747b4" stroke-width="0.55" vector-effect="non-scaling-stroke">C</text>
<text transform="translate(336.26,64.55) scale(1.073,0.559)" font-size="10" font-weight="bold" fill="#2747b4" stroke="#2747b4" stroke-width="0.55" vector-effect="non-scaling-stroke">C</text>
<text transform="translate(336.26,60.50) scale(1.268,0.745)" font-size="10" font-weight="bold" fill="#d8262c" stroke="#d8262c" stroke-width="0.55" vector-effect="non-scaling-stroke">T</text>
<text transform="translate(343.30,68.60) scale(1.073,0.372)" font-size="10" font-weight="bold" fill="#2747b4" stroke="#2747b4" stroke-width="0.25" vector-effect="non-scaling-stroke">C</text>
<text transform="translate(343.30,65.90) scale(1.073,0.559)" font-size="10" font-weight="bold" fill="#1f9d3a" stroke="#1f9d3a" stroke-width="0.55" vector-effect="non-scaling-stroke">A</text>
<text transform="translate(343.30,61.85) scale(0.996,0.931)" font-size="10" font-weight="bold" fill="#f3a20c" stroke="#f3a20c" stroke-width="0.55" vector-effect="non-scaling-stroke">G</text>
<text transform="translate(350.34,68.60) scale(1.073,0.372)" font-size="10" font-weight="bold" fill="#2747b4" stroke="#2747b4" stroke-width="0.25" vector-effect="non-scaling-stroke">C</text>
<text transform="translate(350.34,65.90) scale(0.996,0.372)" font-size="10" font-weight="bold" fill="#f3a20c" stroke="#f3a20c" stroke-width="0.25" vector-effect="non-scaling-stroke">G</text>
<text transform="translate(350.34,63.20) scale(1.073,1.117)" font-size="10" font-weight="bold" fill="#1f9d3a" stroke="#1f9d3a" stroke-width="0.55" vector-effect="non-scaling-stroke">A</text>
<text transform="translate(357.38,68.60) scale(1.073,0.372)" font-size="10" font-weight="bold" fill="#2747b4" stroke="#2747b4" stroke-width="0.25" vector-effect="non-scaling-stroke">C</text>
<text transform="translate(357.38,65.90) scale(0.996,0.372)" font-size="10" font-weight="bold" fill="#f3a20c" stroke="#f3a20c" stroke-width="0.25" vector-effect="non-scaling-stroke">G</text>
<text transform="translate(357.38,63.20) scale(1.073,1.117)" font-size="10" font-weight="bold" fill="#1f9d3a" stroke="#1f9d3a" stroke-width="0.55" vector-effect="non-scaling-stroke">A</text>
<text transform="translate(364.42,68.60) scale(1.073,0.372)" font-size="10" font-weight="bold" fill="#2747b4" stroke="#2747b4" stroke-width="0.25" vector-effect="non-scaling-stroke">C</text>
<text transform="translate(364.42,65.90) scale(0.996,0.372)" font-size="10" font-weight="bold" fill="#f3a20c" stroke="#f3a20c" stroke-width="0.25" vector-effect="non-scaling-stroke">G</text>
<text transform="translate(364.42,63.20) scale(1.073,1.117)" font-size="10" font-weight="bold" fill="#1f9d3a" stroke="#1f9d3a" stroke-width="0.55" vector-effect="non-scaling-stroke">A</text>
<text transform="translate(371.46,68.60) scale(1.073,0.559)" font-size="10" font-weight="bold" fill="#2747b4" stroke="#2747b4" stroke-width="0.55" vector-effect="non-scaling-stroke">C</text>
<text transform="translate(371.46,64.55) scale(1.073,0.559)" font-size="10" font-weight="bold" fill="#2747b4" stroke="#2747b4" stroke-width="0.55" vector-effect="non-scaling-stroke">C</text>
<text transform="translate(371.46,60.50) scale(0.996,0.745)" font-size="10" font-weight="bold" fill="#f3a20c" stroke="#f3a20c" stroke-width="0.55" vector-effect="non-scaling-stroke">G</text>
<text transform="translate(378.51,68.60) scale(1.073,0.559)" font-size="10" font-weight="bold" fill="#2747b4" stroke="#2747b4" stroke-width="0.55" vector-effect="non-scaling-stroke">C</text>
<text transform="translate(378.51,64.55) scale(1.073,0.559)" font-size="10" font-weight="bold" fill="#2747b4" stroke="#2747b4" stroke-width="0.55" vector-effect="non-scaling-stroke">C</text>
<text transform="translate(378.51,60.50) scale(1.268,0.745)" font-size="10" font-weight="bold" fill="#d8262c" stroke="#d8262c" stroke-width="0.55" vector-effect="non-scaling-stroke">T</text>
<text transform="translate(299.24,90.60) scale(1.096,0.389)" font-size="10" font-weight="bold" fill="#1f9d3a" stroke="#1f9d3a" stroke-width="0.25" vector-effect="non-scaling-stroke">A</text>
<text transform="translate(299.24,87.78) scale(1.017,1.556)" font-size="10" font-weight="bold" fill="#f3a20c" stroke="#f3a20c" stroke-width="0.55" vector-effect="non-scaling-stroke">G</text>
<text transform="translate(306.43,90.60) scale(1.295,0.064)" font-size="10" font-weight="bold" fill="#d8262c" stroke="#d8262c" stroke-width="0.25" vector-effect="non-scaling-stroke">T</text>
<text transform="translate(306.43,90.13) scale(1.017,0.064)" font-size="10" font-weight="bold" fill="#f3a20c" stroke="#f3a20c" stroke-width="0.25" vector-effect="non-scaling-stroke">G</text>
<text transform="translate(306.43,89.67) scale(1.096,0.064)" font-size="10" font-weight="bold" fill="#2747b4" stroke="#2747b4" stroke-width="0.25" vector-effect="non-scaling-stroke">C</text>
<text transform="translate(306.43,89.20) scale(1.096,1.750)" font-size="10" font-weight="bold" fill="#1f9d3a" stroke="#1f9d3a" stroke-width="0.55" vector-effect="non-scaling-stroke">A</text>
<text transform="translate(313.62,90.60) scale(1.295,0.064)" font-size="10" font-weight="bold" fill="#d8262c" stroke="#d8262c" stroke-width="0.25" vector-effect="non-scaling-stroke">T</text>
<text transform="translate(313.62,90.13) scale(1.017,0.064)" font-size="10" font-weight="bold" fill="#f3a20c" stroke="#f3a20c" stroke-width="0.25" vector-effect="non-scaling-stroke">G</text>
<text transform="translate(313.62,89.67) scale(1.096,0.064)" font-size="10" font-weight="bold" fill="#2747b4" stroke="#2747b4" stroke-width="0.25" vector-effect="non-scaling-stroke">C</text>
<text transform="translate(313.62,89.20) scale(1.096,1.750)" font-size="10" font-weight="bold" fill="#1f9d3a" stroke="#1f9d3a" stroke-width="0.55" vector-effect="non-scaling-stroke">A</text>
<text transform="translate(320.82,90.60) scale(1.295,0.064)" font-size="10" font-weight="bold" fill="#d8262c" stroke="#d8262c" stroke-width="0.25" vector-effect="non-scaling-stroke">T</text>
<text transform="translate(320.82,90.13) scale(1.017,0.064)" font-size="10" font-weight="bold" fill="#f3a20c" stroke="#f3a20c" stroke-width="0.25" vector-effect="non-scaling-stroke">G</text>
<text transform="translate(320.82,89.67) scale(1.096,0.064)" font-size="10" font-weight="bold" fill="#2747b4" stroke="#2747b4" stroke-width="0.25" vector-effect="non-scaling-stroke">C</text>
<text transform="translate(320.82,89.20) scale(1.096,1.750)" font-size="10" font-weight="bold" fill="#1f9d3a" stroke="#1f9d3a" stroke-width="0.55" vector-effect="non-scaling-stroke">A</text>
<text transform="translate(328.01,90.60) scale(1.096,0.389)" font-size="10" font-weight="bold" fill="#1f9d3a" stroke="#1f9d3a" stroke-width="0.25" vector-effect="non-scaling-stroke">A</text>
<text transform="translate(328.01,87.78) scale(1.096,0.583)" font-size="10" font-weight="bold" fill="#2747b4" stroke="#2747b4" stroke-width="0.55" vector-effect="non-scaling-stroke">C</text>
<text transform="translate(328.01,83.55) scale(1.017,0.972)" font-size="10" font-weight="bold" fill="#f3a20c" stroke="#f3a20c" stroke-width="0.55" vector-effect="non-scaling-stroke">G</text>
<text transform="translate(335.20,90.60) scale(1.096,0.583)" font-size="10" font-weight="bold" fill="#2747b4" stroke="#2747b4" stroke-width="0.55" vector-effect="non-scaling-stroke">C</text>
<text transform="translate(335.20,86.37) scale(1.295,1.361)" font-size="10" font-weight="bold" fill="#d8262c" stroke="#d8262c" stroke-width="0.55" vector-effect="non-scaling-stroke">T</text>
<text transform="translate(342.39,90.60) scale(1.096,0.389)" font-size="10" font-weight="bold" fill="#1f9d3a" stroke="#1f9d3a" stroke-width="0.25" vector-effect="non-scaling-stroke">A</text>
<text transform="translate(342.39,87.78) scale(1.017,1.556)" font-size="10" font-weight="bold" fill="#f3a20c" stroke="#f3a20c" stroke-width="0.55" vector-effect="non-scaling-stroke">G</text>
<text transform="translate(349.58,90.60) scale(1.295,0.064)" font-size="10" font-weight="bold" fill="#d8262c" stroke="#d8262c" stroke-width="0.25" vector-effect="non-scaling-stroke">T</text>
<text transform="translate(349.58,90.13) scale(1.017,0.064)" font-size="10" font-weight="bold" fill="#f3a20c" stroke="#f3a20c" stroke-width="0.25" vector-effect="non-scaling-stroke">G</text>
<text transform="translate(349.58,89.67) scale(1.096,0.064)" font-size="10" font-weight="bold" fill="#2747b4" stroke="#2747b4" stroke-width="0.25" vector-effect="non-scaling-stroke">C</text>
<text transform="translate(349.58,89.20) scale(1.096,1.750)" font-size="10" font-weight="bold" fill="#1f9d3a" stroke="#1f9d3a" stroke-width="0.55" vector-effect="non-scaling-stroke">A</text>
<text transform="translate(356.77,90.60) scale(1.295,0.064)" font-size="10" font-weight="bold" fill="#d8262c" stroke="#d8262c" stroke-width="0.25" vector-effect="non-scaling-stroke">T</text>
<text transform="translate(356.77,90.13) scale(1.017,0.064)" font-size="10" font-weight="bold" fill="#f3a20c" stroke="#f3a20c" stroke-width="0.25" vector-effect="non-scaling-stroke">G</text>
<text transform="translate(356.77,89.67) scale(1.096,0.064)" font-size="10" font-weight="bold" fill="#2747b4" stroke="#2747b4" stroke-width="0.25" vector-effect="non-scaling-stroke">C</text>
<text transform="translate(356.77,89.20) scale(1.096,1.750)" font-size="10" font-weight="bold" fill="#1f9d3a" stroke="#1f9d3a" stroke-width="0.55" vector-effect="non-scaling-stroke">A</text>
<text transform="translate(363.97,90.60) scale(1.295,0.064)" font-size="10" font-weight="bold" fill="#d8262c" stroke="#d8262c" stroke-width="0.25" vector-effect="non-scaling-stroke">T</text>
<text transform="translate(363.97,90.13) scale(1.017,0.064)" font-size="10" font-weight="bold" fill="#f3a20c" stroke="#f3a20c" stroke-width="0.25" vector-effect="non-scaling-stroke">G</text>
<text transform="translate(363.97,89.67) scale(1.096,0.064)" font-size="10" font-weight="bold" fill="#2747b4" stroke="#2747b4" stroke-width="0.25" vector-effect="non-scaling-stroke">C</text>
<text transform="translate(363.97,89.20) scale(1.096,1.750)" font-size="10" font-weight="bold" fill="#1f9d3a" stroke="#1f9d3a" stroke-width="0.55" vector-effect="non-scaling-stroke">A</text>
<text transform="translate(371.16,90.60) scale(1.096,0.194)" font-size="10" font-weight="bold" fill="#1f9d3a" stroke="#1f9d3a" stroke-width="0.25" vector-effect="non-scaling-stroke">A</text>
<text transform="translate(371.16,89.19) scale(1.096,0.778)" font-size="10" font-weight="bold" fill="#2747b4" stroke="#2747b4" stroke-width="0.55" vector-effect="non-scaling-stroke">C</text>
<text transform="translate(371.16,83.55) scale(1.017,0.972)" font-size="10" font-weight="bold" fill="#f3a20c" stroke="#f3a20c" stroke-width="0.55" vector-effect="non-scaling-stroke">G</text>
<text transform="translate(378.35,90.60) scale(1.096,0.389)" font-size="10" font-weight="bold" fill="#2747b4" stroke="#2747b4" stroke-width="0.25" vector-effect="non-scaling-stroke">C</text>
<text transform="translate(378.35,87.78) scale(1.096,0.583)" font-size="10" font-weight="bold" fill="#2747b4" stroke="#2747b4" stroke-width="0.55" vector-effect="non-scaling-stroke">C</text>
<text transform="translate(378.35,83.55) scale(1.295,0.972)" font-size="10" font-weight="bold" fill="#d8262c" stroke="#d8262c" stroke-width="0.55" vector-effect="non-scaling-stroke">T</text>
<text transform="translate(297.97,113.20) scale(1.001,0.378)" font-size="10" font-weight="bold" fill="#2747b4" stroke="#2747b4" stroke-width="0.25" vector-effect="non-scaling-stroke">C</text>
<text transform="translate(297.97,110.46) scale(0.929,0.378)" font-size="10" font-weight="bold" fill="#f3a20c" stroke="#f3a20c" stroke-width="0.25" vector-effect="non-scaling-stroke">G</text>
<text transform="translate(297.97,107.72) scale(1.001,1.134)" font-size="10" font-weight="bold" fill="#1f9d3a" stroke="#1f9d3a" stroke-width="0.55" vector-effect="non-scaling-stroke">A</text>
<text transform="translate(304.54,113.20) scale(1.183,0.378)" font-size="10" font-weight="bold" fill="#d8262c" stroke="#d8262c" stroke-width="0.25" vector-effect="non-scaling-stroke">T</text>
<text transform="translate(304.54,110.46) scale(1.001,0.378)" font-size="10" font-weight="bold" fill="#2747b4" stroke="#2747b4" stroke-width="0.25" vector-effect="non-scaling-stroke">C</text>
<text transform="translate(304.54,107.72) scale(0.929,1.134)" font-size="10" font-weight="bold" fill="#f3a20c" stroke="#f3a20c" stroke-width="0.55" vector-effect="non-scaling-stroke">G</text>
<text transform="translate(311.11,113.20) scale(0.929,0.062)" font-size="10" font-weight="bold" fill="#f3a20c" stroke="#f3a20c" stroke-width="0.25" vector-effect="non-scaling-stroke">G</text>
<text transform="translate(311.11,112.75) scale(1.001,0.062)" font-size="10" font-weight="bold" fill="#2747b4" stroke="#2747b4" stroke-width="0.25" vector-effect="non-scaling-stroke">C</text>
<text transform="translate(311.11,112.30) scale(1.001,0.062)" font-size="10" font-weight="bold" fill="#1f9d3a" stroke="#1f9d3a" stroke-width="0.25" vector-effect="non-scaling-stroke">A</text>
<text transform="translate(311.11,111.84) scale(1.183,1.701)" font-size="10" font-weight="bold" fill="#d8262c" stroke="#d8262c" stroke-width="0.55" vector-effect="non-scaling-stroke">T</text>
<text transform="translate(317.68,113.20) scale(0.929,0.062)" font-size="10" font-weight="bold" fill="#f3a20c" stroke="#f3a20c" stroke-width="0.25" vector-effect="non-scaling-stroke">G</text>
<text transform="translate(317.68,112.75) scale(1.001,0.062)" font-size="10" font-weight="bold" fill="#2747b4" stroke="#2747b4" stroke-width="0.25" vector-effect="non-scaling-stroke">C</text>
<text transform="translate(317.68,112.30) scale(1.001,0.062)" font-size="10" font-weight="bold" fill="#1f9d3a" stroke="#1f9d3a" stroke-width="0.25" vector-effect="non-scaling-stroke">A</text>
<text transform="translate(317.68,111.84) scale(1.183,1.701)" font-size="10" font-weight="bold" fill="#d8262c" stroke="#d8262c" stroke-width="0.55" vector-effect="non-scaling-stroke">T</text>
<text transform="translate(324.25,113.20) scale(0.929,0.062)" font-size="10" font-weight="bold" fill="#f3a20c" stroke="#f3a20c" stroke-width="0.25" vector-effect="non-scaling-stroke">G</text>
<text transform="translate(324.25,112.75) scale(1.001,0.062)" font-size="10" font-weight="bold" fill="#2747b4" stroke="#2747b4" stroke-width="0.25" vector-effect="non-scaling-stroke">C</text>
<text transform="translate(324.25,112.30) scale(1.001,0.062)" font-size="10" font-weight="bold" fill="#1f9d3a" stroke="#1f9d3a" stroke-width="0.25" vector-effect="non-scaling-stroke">A</text>
<text transform="translate(324.25,111.84) scale(1.183,1.701)" font-size="10" font-weight="bold" fill="#d8262c" stroke="#d8262c" stroke-width="0.55" vector-effect="non-scaling-stroke">T</text>
<text transform="translate(330.82,113.20) scale(1.183,0.062)" font-size="10" font-weight="bold" fill="#d8262c" stroke="#d8262c" stroke-width="0.25" vector-effect="non-scaling-stroke">T</text>
<text transform="translate(330.82,112.75) scale(0.929,0.062)" font-size="10" font-weight="bold" fill="#f3a20c" stroke="#f3a20c" stroke-width="0.25" vector-effect="non-scaling-stroke">G</text>
<text transform="translate(330.82,112.30) scale(1.001,0.062)" font-size="10" font-weight="bold" fill="#1f9d3a" stroke="#1f9d3a" stroke-width="0.25" vector-effect="non-scaling-stroke">A</text>
<text transform="translate(330.82,111.84) scale(1.001,1.701)" font-size="10" font-weight="bold" fill="#2747b4" stroke="#2747b4" stroke-width="0.55" vector-effect="non-scaling-stroke">C</text>
<text transform="translate(337.39,113.20) scale(1.001,0.378)" font-size="10" font-weight="bold" fill="#2747b4" stroke="#2747b4" stroke-width="0.25" vector-effect="non-scaling-stroke">C</text>
<text transform="translate(337.39,110.46) scale(0.929,0.567)" font-size="10" font-weight="bold" fill="#f3a20c" stroke="#f3a20c" stroke-width="0.55" vector-effect="non-scaling-stroke">G</text>
<text transform="translate(337.39,106.35) scale(1.001,0.945)" font-size="10" font-weight="bold" fill="#1f9d3a" stroke="#1f9d3a" stroke-width="0.55" vector-effect="non-scaling-stroke">A</text>
<text transform="translate(343.96,113.20) scale(1.001,0.567)" font-size="10" font-weight="bold" fill="#2747b4" stroke="#2747b4" stroke-width="0.55" vector-effect="non-scaling-stroke">C</text>
<text transform="translate(343.96,109.09) scale(1.183,0.567)" font-size="10" font-weight="bold" fill="#d8262c" stroke="#d8262c" stroke-width="0.55" vector-effect="non-scaling-stroke">T</text>
<text transform="translate(343.96,104.98) scale(0.929,0.756)" font-size="10" font-weight="bold" fill="#f3a20c" stroke="#f3a20c" stroke-width="0.55" vector-effect="non-scaling-stroke">G</text>
<text transform="translate(350.53,113.20) scale(0.929,0.062)" font-size="10" font-weight="bold" fill="#f3a20c" stroke="#f3a20c" stroke-width="0.25" vector-effect="non-scaling-stroke">G</text>
<text transform="translate(350.53,112.75) scale(1.001,0.062)" font-size="10" font-weight="bold" fill="#2747b4" stroke="#2747b4" stroke-width="0.25" vector-effect="non-scaling-stroke">C</text>
<text transform="translate(350.53,112.30) scale(1.001,0.062)" font-size="10" font-weight="bold" fill="#1f9d3a" stroke="#1f9d3a" stroke-width="0.25" vector-effect="non-scaling-stroke">A</text>
<text transform="translate(350.53,111.84) scale(1.183,1.701)" font-size="10" font-weight="bold" fill="#d8262c" stroke="#d8262c" stroke-width="0.55" vector-effect="non-scaling-stroke">T</text>
<text transform="translate(357.09,113.20) scale(0.929,0.062)" font-size="10" font-weight="bold" fill="#f3a20c" stroke="#f3a20c" stroke-width="0.25" vector-effect="non-scaling-stroke">G</text>
<text transform="translate(357.09,112.75) scale(1.001,0.062)" font-size="10" font-weight="bold" fill="#2747b4" stroke="#2747b4" stroke-width="0.25" vector-effect="non-scaling-stroke">C</text>
<text transform="translate(357.09,112.30) scale(1.001,0.062)" font-size="10" font-weight="bold" fill="#1f9d3a" stroke="#1f9d3a" stroke-width="0.25" vector-effect="non-scaling-stroke">A</text>
<text transform="translate(357.09,111.84) scale(1.183,1.701)" font-size="10" font-weight="bold" fill="#d8262c" stroke="#d8262c" stroke-width="0.55" vector-effect="non-scaling-stroke">T</text>
<text transform="translate(363.66,113.20) scale(0.929,0.062)" font-size="10" font-weight="bold" fill="#f3a20c" stroke="#f3a20c" stroke-width="0.25" vector-effect="non-scaling-stroke">G</text>
<text transform="translate(363.66,112.75) scale(1.001,0.062)" font-size="10" font-weight="bold" fill="#2747b4" stroke="#2747b4" stroke-width="0.25" vector-effect="non-scaling-stroke">C</text>
<text transform="translate(363.66,112.30) scale(1.001,0.062)" font-size="10" font-weight="bold" fill="#1f9d3a" stroke="#1f9d3a" stroke-width="0.25" vector-effect="non-scaling-stroke">A</text>
<text transform="translate(363.66,111.84) scale(1.183,1.701)" font-size="10" font-weight="bold" fill="#d8262c" stroke="#d8262c" stroke-width="0.55" vector-effect="non-scaling-stroke">T</text>
<text transform="translate(370.23,113.20) scale(0.929,0.378)" font-size="10" font-weight="bold" fill="#f3a20c" stroke="#f3a20c" stroke-width="0.25" vector-effect="non-scaling-stroke">G</text>
<text transform="translate(370.23,110.46) scale(1.001,0.567)" font-size="10" font-weight="bold" fill="#2747b4" stroke="#2747b4" stroke-width="0.55" vector-effect="non-scaling-stroke">C</text>
<text transform="translate(370.23,106.35) scale(1.183,0.945)" font-size="10" font-weight="bold" fill="#d8262c" stroke="#d8262c" stroke-width="0.55" vector-effect="non-scaling-stroke">T</text>
<text transform="translate(376.80,113.20) scale(1.183,0.756)" font-size="10" font-weight="bold" fill="#d8262c" stroke="#d8262c" stroke-width="0.55" vector-effect="non-scaling-stroke">T</text>
<text transform="translate(376.80,107.72) scale(1.001,1.134)" font-size="10" font-weight="bold" fill="#2747b4" stroke="#2747b4" stroke-width="0.55" vector-effect="non-scaling-stroke">C</text>
<text transform="translate(299.25,134.60) scale(1.079,0.546)" font-size="10" font-weight="bold" fill="#1f9d3a" stroke="#1f9d3a" stroke-width="0.55" vector-effect="non-scaling-stroke">A</text>
<text transform="translate(299.25,130.64) scale(1.001,1.274)" font-size="10" font-weight="bold" fill="#f3a20c" stroke="#f3a20c" stroke-width="0.55" vector-effect="non-scaling-stroke">G</text>
<text transform="translate(306.33,134.60) scale(1.079,0.910)" font-size="10" font-weight="bold" fill="#1f9d3a" stroke="#1f9d3a" stroke-width="0.55" vector-effect="non-scaling-stroke">A</text>
<text transform="translate(306.33,128.00) scale(1.001,0.910)" font-size="10" font-weight="bold" fill="#f3a20c" stroke="#f3a20c" stroke-width="0.55" vector-effect="non-scaling-stroke">G</text>
<text transform="translate(313.41,134.60) scale(1.275,0.060)" font-size="10" font-weight="bold" fill="#d8262c" stroke="#d8262c" stroke-width="0.25" vector-effect="non-scaling-stroke">T</text>
<text transform="translate(313.41,134.16) scale(1.001,0.060)" font-size="10" font-weight="bold" fill="#f3a20c" stroke="#f3a20c" stroke-width="0.25" vector-effect="non-scaling-stroke">G</text>
<text transform="translate(313.41,133.73) scale(1.079,0.060)" font-size="10" font-weight="bold" fill="#2747b4" stroke="#2747b4" stroke-width="0.25" vector-effect="non-scaling-stroke">C</text>
<text transform="translate(313.41,133.29) scale(1.079,1.639)" font-size="10" font-weight="bold" fill="#1f9d3a" stroke="#1f9d3a" stroke-width="0.55" vector-effect="non-scaling-stroke">A</text>
<text transform="translate(320.50,134.60) scale(1.275,0.060)" font-size="10" font-weight="bold" fill="#d8262c" stroke="#d8262c" stroke-width="0.25" vector-effect="non-scaling-stroke">T</text>
<text transform="translate(320.50,134.16) scale(1.001,0.060)" font-size="10" font-weight="bold" fill="#f3a20c" stroke="#f3a20c" stroke-width="0.25" vector-effect="non-scaling-stroke">G</text>
<text transform="translate(320.50,133.73) scale(1.079,0.060)" font-size="10" font-weight="bold" fill="#2747b4" stroke="#2747b4" stroke-width="0.25" vector-effect="non-scaling-stroke">C</text>
<text transform="translate(320.50,133.29) scale(1.079,1.639)" font-size="10" font-weight="bold" fill="#1f9d3a" stroke="#1f9d3a" stroke-width="0.55" vector-effect="non-scaling-stroke">A</text>
<text transform="translate(327.58,134.60) scale(1.079,0.364)" font-size="10" font-weight="bold" fill="#1f9d3a" stroke="#1f9d3a" stroke-width="0.25" vector-effect="non-scaling-stroke">A</text>
<text transform="translate(327.58,131.96) scale(1.079,0.728)" font-size="10" font-weight="bold" fill="#2747b4" stroke="#2747b4" stroke-width="0.55" vector-effect="non-scaling-stroke">C</text>
<text transform="translate(327.58,126.68) scale(1.001,0.728)" font-size="10" font-weight="bold" fill="#f3a20c" stroke="#f3a20c" stroke-width="0.55" vector-effect="non-scaling-stroke">G</text>
<text transform="translate(334.66,134.60) scale(1.079,0.910)" font-size="10" font-weight="bold" fill="#2747b4" stroke="#2747b4" stroke-width="0.55" vector-effect="non-scaling-stroke">C</text>
<text transform="translate(334.66,128.00) scale(1.275,0.910)" font-size="10" font-weight="bold" fill="#d8262c" stroke="#d8262c" stroke-width="0.55" vector-effect="non-scaling-stroke">T</text>
<text transform="translate(341.75,134.60) scale(1.275,0.060)" font-size="10" font-weight="bold" fill="#d8262c" stroke="#d8262c" stroke-width="0.25" vector-effect="non-scaling-stroke">T</text>
<text transform="translate(341.75,134.16) scale(1.079,0.060)" font-size="10" font-weight="bold" fill="#2747b4" stroke="#2747b4" stroke-width="0.25" vector-effect="non-scaling-stroke">C</text>
<text transform="translate(341.75,133.73) scale(1.079,0.060)" font-size="10" font-weight="bold" fill="#1f9d3a" stroke="#1f9d3a" stroke-width="0.25" vector-effect="non-scaling-stroke">A</text>
<text transform="translate(341.75,133.29) scale(1.001,1.639)" font-size="10" font-weight="bold" fill="#f3a20c" stroke="#f3a20c" stroke-width="0.55" vector-effect="non-scaling-stroke">G</text>
<text transform="translate(348.83,134.60) scale(1.275,0.060)" font-size="10" font-weight="bold" fill="#d8262c" stroke="#d8262c" stroke-width="0.25" vector-effect="non-scaling-stroke">T</text>
<text transform="translate(348.83,134.16) scale(1.001,0.060)" font-size="10" font-weight="bold" fill="#f3a20c" stroke="#f3a20c" stroke-width="0.25" vector-effect="non-scaling-stroke">G</text>
<text transform="translate(348.83,133.73) scale(1.079,0.060)" font-size="10" font-weight="bold" fill="#2747b4" stroke="#2747b4" stroke-width="0.25" vector-effect="non-scaling-stroke">C</text>
<text transform="translate(348.83,133.29) scale(1.079,1.639)" font-size="10" font-weight="bold" fill="#1f9d3a" stroke="#1f9d3a" stroke-width="0.55" vector-effect="non-scaling-stroke">A</text>
<text transform="translate(355.91,134.60) scale(1.275,0.060)" font-size="10" font-weight="bold" fill="#d8262c" stroke="#d8262c" stroke-width="0.25" vector-effect="non-scaling-stroke">T</text>
<text transform="translate(355.91,134.16) scale(1.001,0.060)" font-size="10" font-weight="bold" fill="#f3a20c" stroke="#f3a20c" stroke-width="0.25" vector-effect="non-scaling-stroke">G</text>
<text transform="translate(355.91,133.73) scale(1.079,0.060)" font-size="10" font-weight="bold" fill="#2747b4" stroke="#2747b4" stroke-width="0.25" vector-effect="non-scaling-stroke">C</text>
<text transform="translate(355.91,133.29) scale(1.079,1.639)" font-size="10" font-weight="bold" fill="#1f9d3a" stroke="#1f9d3a" stroke-width="0.55" vector-effect="non-scaling-stroke">A</text>
<text transform="translate(363.00,134.60) scale(1.275,0.060)" font-size="10" font-weight="bold" fill="#d8262c" stroke="#d8262c" stroke-width="0.25" vector-effect="non-scaling-stroke">T</text>
<text transform="translate(363.00,134.16) scale(1.001,0.060)" font-size="10" font-weight="bold" fill="#f3a20c" stroke="#f3a20c" stroke-width="0.25" vector-effect="non-scaling-stroke">G</text>
<text transform="translate(363.00,133.73) scale(1.079,0.060)" font-size="10" font-weight="bold" fill="#2747b4" stroke="#2747b4" stroke-width="0.25" vector-effect="non-scaling-stroke">C</text>
<text transform="translate(363.00,133.29) scale(1.079,1.639)" font-size="10" font-weight="bold" fill="#1f9d3a" stroke="#1f9d3a" stroke-width="0.55" vector-effect="non-scaling-stroke">A</text>
<text transform="translate(370.08,134.60) scale(1.079,0.364)" font-size="10" font-weight="bold" fill="#1f9d3a" stroke="#1f9d3a" stroke-width="0.25" vector-effect="non-scaling-stroke">A</text>
<text transform="translate(370.08,131.96) scale(1.079,0.728)" font-size="10" font-weight="bold" fill="#2747b4" stroke="#2747b4" stroke-width="0.55" vector-effect="non-scaling-stroke">C</text>
<text transform="translate(370.08,126.68) scale(1.001,0.728)" font-size="10" font-weight="bold" fill="#f3a20c" stroke="#f3a20c" stroke-width="0.55" vector-effect="non-scaling-stroke">G</text>
<text transform="translate(377.16,134.60) scale(1.001,0.364)" font-size="10" font-weight="bold" fill="#f3a20c" stroke="#f3a20c" stroke-width="0.25" vector-effect="non-scaling-stroke">G</text>
<text transform="translate(377.16,131.96) scale(1.079,0.546)" font-size="10" font-weight="bold" fill="#2747b4" stroke="#2747b4" stroke-width="0.55" vector-effect="non-scaling-stroke">C</text>
<text transform="translate(377.16,128.00) scale(1.275,0.910)" font-size="10" font-weight="bold" fill="#d8262c" stroke="#d8262c" stroke-width="0.55" vector-effect="non-scaling-stroke">T</text>
<text transform="translate(300.17,155.20) scale(0.924,0.367)" font-size="10" font-weight="bold" fill="#f3a20c" stroke="#f3a20c" stroke-width="0.25" vector-effect="non-scaling-stroke">G</text>
<text transform="translate(300.17,152.54) scale(0.996,0.367)" font-size="10" font-weight="bold" fill="#2747b4" stroke="#2747b4" stroke-width="0.25" vector-effect="non-scaling-stroke">C</text>
<text transform="translate(300.17,149.88) scale(1.177,0.550)" font-size="10" font-weight="bold" fill="#d8262c" stroke="#d8262c" stroke-width="0.55" vector-effect="non-scaling-stroke">T</text>
<text transform="translate(300.17,145.89) scale(0.996,0.550)" font-size="10" font-weight="bold" fill="#1f9d3a" stroke="#1f9d3a" stroke-width="0.55" vector-effect="non-scaling-stroke">A</text>
<text transform="translate(306.71,155.20) scale(1.177,0.550)" font-size="10" font-weight="bold" fill="#d8262c" stroke="#d8262c" stroke-width="0.55" vector-effect="non-scaling-stroke">T</text>
<text transform="translate(306.71,151.21) scale(0.924,1.284)" font-size="10" font-weight="bold" fill="#f3a20c" stroke="#f3a20c" stroke-width="0.55" vector-effect="non-scaling-stroke">G</text>
<text transform="translate(313.25,155.20) scale(1.177,0.061)" font-size="10" font-weight="bold" fill="#d8262c" stroke="#d8262c" stroke-width="0.25" vector-effect="non-scaling-stroke">T</text>
<text transform="translate(313.25,154.76) scale(0.996,0.061)" font-size="10" font-weight="bold" fill="#2747b4" stroke="#2747b4" stroke-width="0.25" vector-effect="non-scaling-stroke">C</text>
<text transform="translate(313.25,154.32) scale(0.996,0.061)" font-size="10" font-weight="bold" fill="#1f9d3a" stroke="#1f9d3a" stroke-width="0.25" vector-effect="non-scaling-stroke">A</text>
<text transform="translate(313.25,153.88) scale(0.924,1.651)" font-size="10" font-weight="bold" fill="#f3a20c" stroke="#f3a20c" stroke-width="0.55" vector-effect="non-scaling-stroke">G</text>
<text transform="translate(319.79,155.20) scale(1.177,0.061)" font-size="10" font-weight="bold" fill="#d8262c" stroke="#d8262c" stroke-width="0.25" vector-effect="non-scaling-stroke">T</text>
<text transform="translate(319.79,154.76) scale(0.996,0.061)" font-size="10" font-weight="bold" fill="#2747b4" stroke="#2747b4" stroke-width="0.25" vector-effect="non-scaling-stroke">C</text>
<text transform="translate(319.79,154.32) scale(0.996,0.061)" font-size="10" font-weight="bold" fill="#1f9d3a" stroke="#1f9d3a" stroke-width="0.25" vector-effect="non-scaling-stroke">A</text>
<text transform="translate(319.79,153.88) scale(0.924,1.651)" font-size="10" font-weight="bold" fill="#f3a20c" stroke="#f3a20c" stroke-width="0.55" vector-effect="non-scaling-stroke">G</text>
<text transform="translate(326.33,155.20) scale(1.177,0.061)" font-size="10" font-weight="bold" fill="#d8262c" stroke="#d8262c" stroke-width="0.25" vector-effect="non-scaling-stroke">T</text>
<text transform="translate(326.33,154.76) scale(0.996,0.061)" font-size="10" font-weight="bold" fill="#2747b4" stroke="#2747b4" stroke-width="0.25" vector-effect="non-scaling-stroke">C</text>
<text transform="translate(326.33,154.32) scale(0.996,0.061)" font-size="10" font-weight="bold" fill="#1f9d3a" stroke="#1f9d3a" stroke-width="0.25" vector-effect="non-scaling-stroke">A</text>
<text transform="translate(326.33,153.88) scale(0.924,1.651)" font-size="10" font-weight="bold" fill="#f3a20c" stroke="#f3a20c" stroke-width="0.55" vector-effect="non-scaling-stroke">G</text>
<text transform="translate(332.87,155.20) scale(0.996,0.917)" font-size="10" font-weight="bold" fill="#1f9d3a" stroke="#1f9d3a" stroke-width="0.55" vector-effect="non-scaling-stroke">A</text>
<text transform="translate(332.87,148.55) scale(0.924,0.917)" font-size="10" font-weight="bold" fill="#f3a20c" stroke="#f3a20c" stroke-width="0.55" vector-effect="non-scaling-stroke">G</text>
<text transform="translate(339.40,155.20) scale(1.177,0.367)" font-size="10" font-weight="bold" fill="#d8262c" stroke="#d8262c" stroke-width="0.25" vector-effect="non-scaling-stroke">T</text>
<text transform="translate(339.40,152.54) scale(0.996,0.367)" font-size="10" font-weight="bold" fill="#2747b4" stroke="#2747b4" stroke-width="0.25" vector-effect="non-scaling-stroke">C</text>
<text transform="translate(339.40,149.88) scale(0.996,1.101)" font-size="10" font-weight="bold" fill="#1f9d3a" stroke="#1f9d3a" stroke-width="0.55" vector-effect="non-scaling-stroke">A</text>
<text transform="translate(345.94,155.20) scale(0.924,0.061)" font-size="10" font-weight="bold" fill="#f3a20c" stroke="#f3a20c" stroke-width="0.25" vector-effect="non-scaling-stroke">G</text>
<text transform="translate(345.94,154.76) scale(0.996,0.061)" font-size="10" font-weight="bold" fill="#2747b4" stroke="#2747b4" stroke-width="0.25" vector-effect="non-scaling-stroke">C</text>
<text transform="translate(345.94,154.32) scale(0.996,0.061)" font-size="10" font-weight="bold" fill="#1f9d3a" stroke="#1f9d3a" stroke-width="0.25" vector-effect="non-scaling-stroke">A</text>
<text transform="translate(345.94,153.88) scale(1.177,1.651)" font-size="10" font-weight="bold" fill="#d8262c" stroke="#d8262c" stroke-width="0.55" vector-effect="non-scaling-stroke">T</text>
<text transform="translate(352.48,155.20) scale(0.924,0.061)" font-size="10" font-weight="bold" fill="#f3a20c" stroke="#f3a20c" stroke-width="0.25" vector-effect="non-scaling-stroke">G</text>
<text transform="translate(352.48,154.76) scale(0.996,0.061)" font-size="10" font-weight="bold" fill="#2747b4" stroke="#2747b4" stroke-width="0.25" vector-effect="non-scaling-stroke">C</text>
<text transform="translate(352.48,154.32) scale(0.996,0.061)" font-size="10" font-weight="bold" fill="#1f9d3a" stroke="#1f9d3a" stroke-width="0.25" vector-effect="non-scaling-stroke">A</text>
<text transform="translate(352.48,153.88) scale(1.177,1.651)" font-size="10" font-weight="bold" fill="#d8262c" stroke="#d8262c" stroke-width="0.55" vector-effect="non-scaling-stroke">T</text>
<text transform="translate(359.02,155.20) scale(0.924,0.061)" font-size="10" font-weight="bold" fill="#f3a20c" stroke="#f3a20c" stroke-width="0.25" vector-effect="non-scaling-stroke">G</text>
<text transform="translate(359.02,154.76) scale(0.996,0.061)" font-size="10" font-weight="bold" fill="#2747b4" stroke="#2747b4" stroke-width="0.25" vector-effect="non-scaling-stroke">C</text>
<text transform="translate(359.02,154.32) scale(0.996,0.061)" font-size="10" font-weight="bold" fill="#1f9d3a" stroke="#1f9d3a" stroke-width="0.25" vector-effect="non-scaling-stroke">A</text>
<text transform="translate(359.02,153.88) scale(1.177,1.651)" font-size="10" font-weight="bold" fill="#d8262c" stroke="#d8262c" stroke-width="0.55" vector-effect="non-scaling-stroke">T</text>
<text transform="translate(365.56,155.20) scale(1.177,0.061)" font-size="10" font-weight="bold" fill="#d8262c" stroke="#d8262c" stroke-width="0.25" vector-effect="non-scaling-stroke">T</text>
<text transform="translate(365.56,154.76) scale(0.924,0.061)" font-size="10" font-weight="bold" fill="#f3a20c" stroke="#f3a20c" stroke-width="0.25" vector-effect="non-scaling-stroke">G</text>
<text transform="translate(365.56,154.32) scale(0.996,0.061)" font-size="10" font-weight="bold" fill="#1f9d3a" stroke="#1f9d3a" stroke-width="0.25" vector-effect="non-scaling-stroke">A</text>
<text transform="translate(365.56,153.88) scale(0.996,1.651)" font-size="10" font-weight="bold" fill="#2747b4" stroke="#2747b4" stroke-width="0.55" vector-effect="non-scaling-stroke">C</text>
<text transform="translate(372.10,155.20) scale(1.177,0.061)" font-size="10" font-weight="bold" fill="#d8262c" stroke="#d8262c" stroke-width="0.25" vector-effect="non-scaling-stroke">T</text>
<text transform="translate(372.10,154.76) scale(0.924,0.061)" font-size="10" font-weight="bold" fill="#f3a20c" stroke="#f3a20c" stroke-width="0.25" vector-effect="non-scaling-stroke">G</text>
<text transform="translate(372.10,154.32) scale(0.996,0.061)" font-size="10" font-weight="bold" fill="#1f9d3a" stroke="#1f9d3a" stroke-width="0.25" vector-effect="non-scaling-stroke">A</text>
<text transform="translate(372.10,153.88) scale(0.996,1.651)" font-size="10" font-weight="bold" fill="#2747b4" stroke="#2747b4" stroke-width="0.55" vector-effect="non-scaling-stroke">C</text>
<text transform="translate(378.63,155.20) scale(0.996,0.367)" font-size="10" font-weight="bold" fill="#1f9d3a" stroke="#1f9d3a" stroke-width="0.25" vector-effect="non-scaling-stroke">A</text>
<text transform="translate(378.63,152.54) scale(1.177,0.367)" font-size="10" font-weight="bold" fill="#d8262c" stroke="#d8262c" stroke-width="0.25" vector-effect="non-scaling-stroke">T</text>
<text transform="translate(378.63,149.88) scale(0.996,1.101)" font-size="10" font-weight="bold" fill="#2747b4" stroke="#2747b4" stroke-width="0.55" vector-effect="non-scaling-stroke">C</text>
<text transform="translate(300.15,177.20) scale(1.262,0.062)" font-size="10" font-weight="bold" fill="#d8262c" stroke="#d8262c" stroke-width="0.25" vector-effect="non-scaling-stroke">T</text>
<text transform="translate(300.15,176.75) scale(0.991,0.062)" font-size="10" font-weight="bold" fill="#f3a20c" stroke="#f3a20c" stroke-width="0.25" vector-effect="non-scaling-stroke">G</text>
<text transform="translate(300.15,176.30) scale(1.068,0.062)" font-size="10" font-weight="bold" fill="#2747b4" stroke="#2747b4" stroke-width="0.25" vector-effect="non-scaling-stroke">C</text>
<text transform="translate(300.15,175.84) scale(1.068,1.701)" font-size="10" font-weight="bold" fill="#1f9d3a" stroke="#1f9d3a" stroke-width="0.55" vector-effect="non-scaling-stroke">A</text>
<text transform="translate(307.16,177.20) scale(1.262,0.062)" font-size="10" font-weight="bold" fill="#d8262c" stroke="#d8262c" stroke-width="0.25" vector-effect="non-scaling-stroke">T</text>
<text transform="translate(307.16,176.75) scale(0.991,0.062)" font-size="10" font-weight="bold" fill="#f3a20c" stroke="#f3a20c" stroke-width="0.25" vector-effect="non-scaling-stroke">G</text>
<text transform="translate(307.16,176.30) scale(1.068,0.062)" font-size="10" font-weight="bold" fill="#1f9d3a" stroke="#1f9d3a" stroke-width="0.25" vector-effect="non-scaling-stroke">A</text>
<text transform="translate(307.16,175.84) scale(1.068,1.701)" font-size="10" font-weight="bold" fill="#2747b4" stroke="#2747b4" stroke-width="0.55" vector-effect="non-scaling-stroke">C</text>
<text transform="translate(314.17,177.20) scale(0.991,0.062)" font-size="10" font-weight="bold" fill="#f3a20c" stroke="#f3a20c" stroke-width="0.25" vector-effect="non-scaling-stroke">G</text>
<text transform="translate(314.17,176.75) scale(1.068,0.062)" font-size="10" font-weight="bold" fill="#2747b4" stroke="#2747b4" stroke-width="0.25" vector-effect="non-scaling-stroke">C</text>
<text transform="translate(314.17,176.30) scale(1.068,0.062)" font-size="10" font-weight="bold" fill="#1f9d3a" stroke="#1f9d3a" stroke-width="0.25" vector-effect="non-scaling-stroke">A</text>
<text transform="translate(314.17,175.84) scale(1.262,1.701)" font-size="10" font-weight="bold" fill="#d8262c" stroke="#d8262c" stroke-width="0.55" vector-effect="non-scaling-stroke">T</text>
<text transform="translate(321.17,177.20) scale(0.991,0.062)" font-size="10" font-weight="bold" fill="#f3a20c" stroke="#f3a20c" stroke-width="0.25" vector-effect="non-scaling-stroke">G</text>
<text transform="translate(321.17,176.75) scale(1.068,0.062)" font-size="10" font-weight="bold" fill="#2747b4" stroke="#2747b4" stroke-width="0.25" vector-effect="non-scaling-stroke">C</text>
<text transform="translate(321.17,176.30) scale(1.068,0.062)" font-size="10" font-weight="bold" fill="#1f9d3a" stroke="#1f9d3a" stroke-width="0.25" vector-effect="non-scaling-stroke">A</text>
<text transform="translate(321.17,175.84) scale(1.262,1.701)" font-size="10" font-weight="bold" fill="#d8262c" stroke="#d8262c" stroke-width="0.55" vector-effect="non-scaling-stroke">T</text>
<text transform="translate(328.18,177.20) scale(0.991,0.062)" font-size="10" font-weight="bold" fill="#f3a20c" stroke="#f3a20c" stroke-width="0.25" vector-effect="non-scaling-stroke">G</text>
<text transform="translate(328.18,176.75) scale(1.068,0.062)" font-size="10" font-weight="bold" fill="#2747b4" stroke="#2747b4" stroke-width="0.25" vector-effect="non-scaling-stroke">C</text>
<text transform="translate(328.18,176.30) scale(1.068,0.062)" font-size="10" font-weight="bold" fill="#1f9d3a" stroke="#1f9d3a" stroke-width="0.25" vector-effect="non-scaling-stroke">A</text>
<text transform="translate(328.18,175.84) scale(1.262,1.701)" font-size="10" font-weight="bold" fill="#d8262c" stroke="#d8262c" stroke-width="0.55" vector-effect="non-scaling-stroke">T</text>
<text transform="translate(335.19,177.20) scale(1.262,0.062)" font-size="10" font-weight="bold" fill="#d8262c" stroke="#d8262c" stroke-width="0.25" vector-effect="non-scaling-stroke">T</text>
<text transform="translate(335.19,176.75) scale(0.991,0.062)" font-size="10" font-weight="bold" fill="#f3a20c" stroke="#f3a20c" stroke-width="0.25" vector-effect="non-scaling-stroke">G</text>
<text transform="translate(335.19,176.30) scale(1.068,0.062)" font-size="10" font-weight="bold" fill="#1f9d3a" stroke="#1f9d3a" stroke-width="0.25" vector-effect="non-scaling-stroke">A</text>
<text transform="translate(335.19,175.84) scale(1.068,1.701)" font-size="10" font-weight="bold" fill="#2747b4" stroke="#2747b4" stroke-width="0.55" vector-effect="non-scaling-stroke">C</text>
<text transform="translate(342.20,177.20) scale(1.068,0.378)" font-size="10" font-weight="bold" fill="#2747b4" stroke="#2747b4" stroke-width="0.25" vector-effect="non-scaling-stroke">C</text>
<text transform="translate(342.20,174.46) scale(1.262,0.567)" font-size="10" font-weight="bold" fill="#d8262c" stroke="#d8262c" stroke-width="0.55" vector-effect="non-scaling-stroke">T</text>
<text transform="translate(342.20,170.35) scale(1.068,0.945)" font-size="10" font-weight="bold" fill="#1f9d3a" stroke="#1f9d3a" stroke-width="0.55" vector-effect="non-scaling-stroke">A</text>
<text transform="translate(349.21,177.20) scale(1.262,0.062)" font-size="10" font-weight="bold" fill="#d8262c" stroke="#d8262c" stroke-width="0.25" vector-effect="non-scaling-stroke">T</text>
<text transform="translate(349.21,176.75) scale(0.991,0.062)" font-size="10" font-weight="bold" fill="#f3a20c" stroke="#f3a20c" stroke-width="0.25" vector-effect="non-scaling-stroke">G</text>
<text transform="translate(349.21,176.30) scale(1.068,0.062)" font-size="10" font-weight="bold" fill="#1f9d3a" stroke="#1f9d3a" stroke-width="0.25" vector-effect="non-scaling-stroke">A</text>
<text transform="translate(349.21,175.84) scale(1.068,1.701)" font-size="10" font-weight="bold" fill="#2747b4" stroke="#2747b4" stroke-width="0.55" vector-effect="non-scaling-stroke">C</text>
<text transform="translate(356.22,177.20) scale(0.991,0.062)" font-size="10" font-weight="bold" fill="#f3a20c" stroke="#f3a20c" stroke-width="0.25" vector-effect="non-scaling-stroke">G</text>
<text transform="translate(356.22,176.75) scale(1.068,0.062)" font-size="10" font-weight="bold" fill="#2747b4" stroke="#2747b4" stroke-width="0.25" vector-effect="non-scaling-stroke">C</text>
<text transform="translate(356.22,176.30) scale(1.068,0.062)" font-size="10" font-weight="bold" fill="#1f9d3a" stroke="#1f9d3a" stroke-width="0.25" vector-effect="non-scaling-stroke">A</text>
<text transform="translate(356.22,175.84) scale(1.262,1.701)" font-size="10" font-weight="bold" fill="#d8262c" stroke="#d8262c" stroke-width="0.55" vector-effect="non-scaling-stroke">T</text>
<text transform="translate(363.22,177.20) scale(1.068,0.378)" font-size="10" font-weight="bold" fill="#2747b4" stroke="#2747b4" stroke-width="0.25" vector-effect="non-scaling-stroke">C</text>
<text transform="translate(363.22,174.46) scale(0.991,0.378)" font-size="10" font-weight="bold" fill="#f3a20c" stroke="#f3a20c" stroke-width="0.25" vector-effect="non-scaling-stroke">G</text>
<text transform="translate(363.22,171.72) scale(1.262,1.134)" font-size="10" font-weight="bold" fill="#d8262c" stroke="#d8262c" stroke-width="0.55" vector-effect="non-scaling-stroke">T</text>
<text transform="translate(370.23,177.20) scale(1.068,0.567)" font-size="10" font-weight="bold" fill="#2747b4" stroke="#2747b4" stroke-width="0.55" vector-effect="non-scaling-stroke">C</text>
<text transform="translate(370.23,173.09) scale(1.068,0.567)" font-size="10" font-weight="bold" fill="#1f9d3a" stroke="#1f9d3a" stroke-width="0.55" vector-effect="non-scaling-stroke">A</text>
<text transform="translate(370.23,168.98) scale(1.262,0.756)" font-size="10" font-weight="bold" fill="#d8262c" stroke="#d8262c" stroke-width="0.55" vector-effect="non-scaling-stroke">T</text>
<text transform="translate(377.24,177.20) scale(1.068,0.567)" font-size="10" font-weight="bold" fill="#1f9d3a" stroke="#1f9d3a" stroke-width="0.55" vector-effect="non-scaling-stroke">A</text>
<text transform="translate(377.24,173.09) scale(1.262,0.567)" font-size="10" font-weight="bold" fill="#d8262c" stroke="#d8262c" stroke-width="0.55" vector-effect="non-scaling-stroke">T</text>
<text transform="translate(377.24,168.98) scale(1.068,0.756)" font-size="10" font-weight="bold" fill="#2747b4" stroke="#2747b4" stroke-width="0.55" vector-effect="non-scaling-stroke">C</text>
<text transform="translate(303.74,198.60) scale(1.086,0.546)" font-size="10" font-weight="bold" fill="#2747b4" stroke="#2747b4" stroke-width="0.55" vector-effect="non-scaling-stroke">C</text>
<text transform="translate(303.74,194.64) scale(1.284,0.364)" font-size="10" font-weight="bold" fill="#d8262c" stroke="#d8262c" stroke-width="0.25" vector-effect="non-scaling-stroke">T</text>
<text transform="translate(303.74,192.00) scale(1.086,0.910)" font-size="10" font-weight="bold" fill="#1f9d3a" stroke="#1f9d3a" stroke-width="0.55" vector-effect="non-scaling-stroke">A</text>
<text transform="translate(310.87,198.60) scale(1.284,0.546)" font-size="10" font-weight="bold" fill="#d8262c" stroke="#d8262c" stroke-width="0.55" vector-effect="non-scaling-stroke">T</text>
<text transform="translate(310.87,194.64) scale(1.008,0.546)" font-size="10" font-weight="bold" fill="#f3a20c" stroke="#f3a20c" stroke-width="0.55" vector-effect="non-scaling-stroke">G</text>
<text transform="translate(310.87,190.68) scale(1.086,0.728)" font-size="10" font-weight="bold" fill="#2747b4" stroke="#2747b4" stroke-width="0.55" vector-effect="non-scaling-stroke">C</text>
<text transform="translate(318.00,198.60) scale(1.086,0.728)" font-size="10" font-weight="bold" fill="#2747b4" stroke="#2747b4" stroke-width="0.55" vector-effect="non-scaling-stroke">C</text>
<text transform="translate(318.00,193.32) scale(1.284,1.092)" font-size="10" font-weight="bold" fill="#d8262c" stroke="#d8262c" stroke-width="0.55" vector-effect="non-scaling-stroke">T</text>
<text transform="translate(325.13,198.60) scale(1.284,0.060)" font-size="10" font-weight="bold" fill="#d8262c" stroke="#d8262c" stroke-width="0.25" vector-effect="non-scaling-stroke">T</text>
<text transform="translate(325.13,198.16) scale(1.086,0.060)" font-size="10" font-weight="bold" fill="#2747b4" stroke="#2747b4" stroke-width="0.25" vector-effect="non-scaling-stroke">C</text>
<text transform="translate(325.13,197.73) scale(1.086,0.060)" font-size="10" font-weight="bold" fill="#1f9d3a" stroke="#1f9d3a" stroke-width="0.25" vector-effect="non-scaling-stroke">A</text>
<text transform="translate(325.13,197.29) scale(1.008,1.639)" font-size="10" font-weight="bold" fill="#f3a20c" stroke="#f3a20c" stroke-width="0.55" vector-effect="non-scaling-stroke">G</text>
<text transform="translate(332.26,198.60) scale(1.284,0.060)" font-size="10" font-weight="bold" fill="#d8262c" stroke="#d8262c" stroke-width="0.25" vector-effect="non-scaling-stroke">T</text>
<text transform="translate(332.26,198.16) scale(1.008,0.060)" font-size="10" font-weight="bold" fill="#f3a20c" stroke="#f3a20c" stroke-width="0.25" vector-effect="non-scaling-stroke">G</text>
<text transform="translate(332.26,197.73) scale(1.086,0.060)" font-size="10" font-weight="bold" fill="#2747b4" stroke="#2747b4" stroke-width="0.25" vector-effect="non-scaling-stroke">C</text>
<text transform="translate(332.26,197.29) scale(1.086,1.639)" font-size="10" font-weight="bold" fill="#1f9d3a" stroke="#1f9d3a" stroke-width="0.55" vector-effect="non-scaling-stroke">A</text>
<text transform="translate(339.39,198.60) scale(1.284,0.060)" font-size="10" font-weight="bold" fill="#d8262c" stroke="#d8262c" stroke-width="0.25" vector-effect="non-scaling-stroke">T</text>
<text transform="translate(339.39,198.16) scale(1.008,0.060)" font-size="10" font-weight="bold" fill="#f3a20c" stroke="#f3a20c" stroke-width="0.25" vector-effect="non-scaling-stroke">G</text>
<text transform="translate(339.39,197.73) scale(1.086,0.060)" font-size="10" font-weight="bold" fill="#2747b4" stroke="#2747b4" stroke-width="0.25" vector-effect="non-scaling-stroke">C</text>
<text transform="translate(339.39,197.29) scale(1.086,1.639)" font-size="10" font-weight="bold" fill="#1f9d3a" stroke="#1f9d3a" stroke-width="0.55" vector-effect="non-scaling-stroke">A</text>
<text transform="translate(346.52,198.60) scale(1.284,0.060)" font-size="10" font-weight="bold" fill="#d8262c" stroke="#d8262c" stroke-width="0.25" vector-effect="non-scaling-stroke">T</text>
<text transform="translate(346.52,198.16) scale(1.008,0.060)" font-size="10" font-weight="bold" fill="#f3a20c" stroke="#f3a20c" stroke-width="0.25" vector-effect="non-scaling-stroke">G</text>
<text transform="translate(346.52,197.73) scale(1.086,0.060)" font-size="10" font-weight="bold" fill="#2747b4" stroke="#2747b4" stroke-width="0.25" vector-effect="non-scaling-stroke">C</text>
<text transform="translate(346.52,197.29) scale(1.086,1.639)" font-size="10" font-weight="bold" fill="#1f9d3a" stroke="#1f9d3a" stroke-width="0.55" vector-effect="non-scaling-stroke">A</text>
<text transform="translate(353.65,198.60) scale(1.008,0.546)" font-size="10" font-weight="bold" fill="#f3a20c" stroke="#f3a20c" stroke-width="0.55" vector-effect="non-scaling-stroke">G</text>
<text transform="translate(353.65,194.64) scale(1.086,1.274)" font-size="10" font-weight="bold" fill="#2747b4" stroke="#2747b4" stroke-width="0.55" vector-effect="non-scaling-stroke">C</text>
<text transform="translate(360.78,198.60) scale(1.086,0.364)" font-size="10" font-weight="bold" fill="#1f9d3a" stroke="#1f9d3a" stroke-width="0.25" vector-effect="non-scaling-stroke">A</text>
<text transform="translate(360.78,195.96) scale(1.284,0.546)" font-size="10" font-weight="bold" fill="#d8262c" stroke="#d8262c" stroke-width="0.55" vector-effect="non-scaling-stroke">T</text>
<text transform="translate(360.78,192.00) scale(1.086,0.910)" font-size="10" font-weight="bold" fill="#2747b4" stroke="#2747b4" stroke-width="0.55" vector-effect="non-scaling-stroke">C</text>
<text transform="translate(367.91,198.60) scale(1.284,0.546)" font-size="10" font-weight="bold" fill="#d8262c" stroke="#d8262c" stroke-width="0.55" vector-effect="non-scaling-stroke">T</text>
<text transform="translate(367.91,194.64) scale(1.008,0.364)" font-size="10" font-weight="bold" fill="#f3a20c" stroke="#f3a20c" stroke-width="0.25" vector-effect="non-scaling-stroke">G</text>
<text transform="translate(367.91,192.00) scale(1.086,0.910)" font-size="10" font-weight="bold" fill="#1f9d3a" stroke="#1f9d3a" stroke-width="0.55" vector-effect="non-scaling-stroke">A</text>
<text x="62.50" y="240.10" font-size="10.2" textLength="52.20" lengthAdjust="spacingAndGlyphs" stroke="#231f20" stroke-width="0.14">EV signature</text>
<text x="53.80" y="253.75" font-size="8.6" text-anchor="end" font-style="italic" textLength="27.70" lengthAdjust="spacingAndGlyphs" stroke="#231f20" stroke-width="0.14">Hand2</text>
<line x1="58.00" y1="250.75" x2="62.00" y2="250.75" stroke="#000" stroke-width="1.1"/>
<text x="53.80" y="262.49" font-size="8.6" text-anchor="end" font-style="italic" textLength="32.90" lengthAdjust="spacingAndGlyphs" stroke="#231f20" stroke-width="0.14">NCOR1</text>
<line x1="58.00" y1="259.49" x2="62.00" y2="259.49" stroke="#000" stroke-width="1.1"/>
<text x="53.80" y="271.23" font-size="8.6" text-anchor="end" font-style="italic" textLength="14.63" lengthAdjust="spacingAndGlyphs" stroke="#231f20" stroke-width="0.14">Vdr</text>
<line x1="58.00" y1="268.23" x2="62.00" y2="268.23" stroke="#000" stroke-width="1.1"/>
<text x="53.80" y="279.97" font-size="8.6" text-anchor="end" font-style="italic" textLength="25.60" lengthAdjust="spacingAndGlyphs" stroke="#231f20" stroke-width="0.14">Foxc1</text>
<line x1="58.00" y1="276.97" x2="62.00" y2="276.97" stroke="#000" stroke-width="1.1"/>
<text x="53.80" y="288.71" font-size="8.6" text-anchor="end" font-style="italic" textLength="24.04" lengthAdjust="spacingAndGlyphs" stroke="#231f20" stroke-width="0.14">Snaj2</text>
<line x1="58.00" y1="285.71" x2="62.00" y2="285.71" stroke="#000" stroke-width="1.1"/>
<text x="53.80" y="297.45" font-size="8.6" text-anchor="end" font-style="italic" textLength="29.78" lengthAdjust="spacingAndGlyphs" stroke="#231f20" stroke-width="0.14">Smad5</text>
<line x1="58.00" y1="294.45" x2="62.00" y2="294.45" stroke="#000" stroke-width="1.1"/>
<text x="53.80" y="306.19" font-size="8.6" text-anchor="end" font-style="italic" textLength="24.37" lengthAdjust="spacingAndGlyphs" stroke="#231f20" stroke-width="0.14">MTA1</text>
<line x1="58.00" y1="303.19" x2="62.00" y2="303.19" stroke="#000" stroke-width="1.1"/>
<text x="53.80" y="314.93" font-size="8.6" text-anchor="end" font-style="italic" textLength="29.78" lengthAdjust="spacingAndGlyphs" stroke="#231f20" stroke-width="0.14">Smad1</text>
<line x1="58.00" y1="311.93" x2="62.00" y2="311.93" stroke="#000" stroke-width="1.1"/>
<text x="53.80" y="323.67" font-size="8.6" text-anchor="end" font-style="italic" textLength="24.03" lengthAdjust="spacingAndGlyphs" stroke="#231f20" stroke-width="0.14">MSx2</text>
<line x1="58.00" y1="320.67" x2="62.00" y2="320.67" stroke="#000" stroke-width="1.1"/>
<text x="53.80" y="332.41" font-size="8.6" text-anchor="end" font-style="italic" textLength="25.59" lengthAdjust="spacingAndGlyphs" stroke="#231f20" stroke-width="0.14">ARNT</text>
<line x1="58.00" y1="329.41" x2="62.00" y2="329.41" stroke="#000" stroke-width="1.1"/>
<text x="53.80" y="341.15" font-size="8.6" text-anchor="end" font-style="italic" textLength="28.73" lengthAdjust="spacingAndGlyphs" stroke="#231f20" stroke-width="0.14">Foxm1</text>
<line x1="58.00" y1="338.15" x2="62.00" y2="338.15" stroke="#000" stroke-width="1.1"/>
<text x="53.80" y="349.89" font-size="8.6" text-anchor="end" font-style="italic" textLength="27.68" lengthAdjust="spacingAndGlyphs" stroke="#231f20" stroke-width="0.14">Mef2C</text>
<line x1="58.00" y1="346.89" x2="62.00" y2="346.89" stroke="#000" stroke-width="1.1"/>
<text x="53.80" y="358.63" font-size="8.6" text-anchor="end" font-style="italic" textLength="24.04" lengthAdjust="spacingAndGlyphs" stroke="#231f20" stroke-width="0.14">Snai1</text>
<line x1="58.00" y1="355.63" x2="62.00" y2="355.63" stroke="#000" stroke-width="1.1"/>
<text x="53.80" y="367.37" font-size="8.6" text-anchor="end" font-style="italic" textLength="19.33" lengthAdjust="spacingAndGlyphs" stroke="#231f20" stroke-width="0.14">Esr1</text>
<line x1="58.00" y1="364.37" x2="62.00" y2="364.37" stroke="#000" stroke-width="1.1"/>
<text x="53.80" y="376.11" font-size="8.6" text-anchor="end" font-style="italic" textLength="24.03" lengthAdjust="spacingAndGlyphs" stroke="#231f20" stroke-width="0.14">EZH2</text>
<line x1="58.00" y1="373.11" x2="62.00" y2="373.11" stroke="#000" stroke-width="1.1"/>
<text x="53.80" y="384.85" font-size="8.6" text-anchor="end" font-style="italic" textLength="26.12" lengthAdjust="spacingAndGlyphs" stroke="#231f20" stroke-width="0.14">Foxo1</text>
<line x1="58.00" y1="381.85" x2="62.00" y2="381.85" stroke="#000" stroke-width="1.1"/>
<text x="53.80" y="393.59" font-size="8.6" text-anchor="end" font-style="italic" textLength="28.21" lengthAdjust="spacingAndGlyphs" stroke="#231f20" stroke-width="0.14">Myod1</text>
<line x1="58.00" y1="390.59" x2="62.00" y2="390.59" stroke="#000" stroke-width="1.1"/>
<text x="53.80" y="402.33" font-size="8.6" text-anchor="end" font-style="italic" textLength="27.68" lengthAdjust="spacingAndGlyphs" stroke="#231f20" stroke-width="0.14">MYCN</text>
<line x1="58.00" y1="399.33" x2="62.00" y2="399.33" stroke="#000" stroke-width="1.1"/>
<text x="53.80" y="411.07" font-size="8.6" text-anchor="end" font-style="italic" textLength="19.34" lengthAdjust="spacingAndGlyphs" stroke="#231f20" stroke-width="0.14">E2f1</text>
<line x1="58.00" y1="408.07" x2="62.00" y2="408.07" stroke="#000" stroke-width="1.1"/>
<text x="53.80" y="419.81" font-size="8.6" text-anchor="end" font-style="italic" textLength="30.31" lengthAdjust="spacingAndGlyphs" stroke="#231f20" stroke-width="0.14">Nfe2L2</text>
<line x1="58.00" y1="416.81" x2="62.00" y2="416.81" stroke="#000" stroke-width="1.1"/>
<clipPath id="cpev"><rect x="62" y="246.5" width="123.5" height="175.25"/></clipPath>
<g clip-path="url(#cpev)">
<ellipse cx="181.5" cy="250.5" rx="12.28" ry="14.12" fill="#d6637e" fill-opacity="0.8" stroke="#d6637e" stroke-opacity="0.35" stroke-width="0.8" stroke-dasharray="1.2,0.6"/>
<ellipse cx="157.5" cy="260.2" rx="9.77" ry="11.24" fill="#d85156" fill-opacity="0.8" stroke="#d85156" stroke-opacity="0.35" stroke-width="0.8" stroke-dasharray="1.2,0.6"/>
<ellipse cx="139.8" cy="268.7" rx="8.84" ry="10.17" fill="#d8474c" fill-opacity="0.8" stroke="#d8474c" stroke-opacity="0.35" stroke-width="0.8" stroke-dasharray="1.2,0.6"/>
<ellipse cx="140" cy="277.7" rx="9.30" ry="10.70" fill="#d8474c" fill-opacity="0.8" stroke="#d8474c" stroke-opacity="0.35" stroke-width="0.8" stroke-dasharray="1.2,0.6"/>
<ellipse cx="115.9" cy="285.75" rx="7.44" ry="8.56" fill="#d01a1a" fill-opacity="0.8" stroke="#d01a1a" stroke-opacity="0.35" stroke-width="0.8" stroke-dasharray="1.2,0.6"/>
<ellipse cx="116.5" cy="294.3" rx="6.98" ry="8.03" fill="#d01515" fill-opacity="0.8" stroke="#d01515" stroke-opacity="0.35" stroke-width="0.8" stroke-dasharray="1.2,0.6"/>
<ellipse cx="112.7" cy="303.4" rx="10.23" ry="11.77" fill="#5992d8" fill-opacity="0.8" stroke="#5992d8" stroke-opacity="0.35" stroke-width="0.8" stroke-dasharray="1.2,0.6"/>
<ellipse cx="98.8" cy="311.8" rx="7.63" ry="8.77" fill="#d06d95" fill-opacity="0.8" stroke="#d06d95" stroke-opacity="0.35" stroke-width="0.8" stroke-dasharray="1.2,0.6"/>
<ellipse cx="99" cy="320.75" rx="7.44" ry="8.56" fill="#d8596a" fill-opacity="0.8" stroke="#d8596a" stroke-opacity="0.35" stroke-width="0.8" stroke-dasharray="1.2,0.6"/>
<ellipse cx="99.3" cy="329.7" rx="7.25" ry="8.35" fill="#d85960" fill-opacity="0.8" stroke="#d85960" stroke-opacity="0.35" stroke-width="0.8" stroke-dasharray="1.2,0.6"/>
<ellipse cx="88.5" cy="338.6" rx="6.51" ry="7.49" fill="#d33333" fill-opacity="0.8" stroke="#d33333" stroke-opacity="0.35" stroke-width="0.8" stroke-dasharray="1.2,0.6"/>
<ellipse cx="87.5" cy="347.1" rx="6.51" ry="7.49" fill="#d63d3d" fill-opacity="0.8" stroke="#d63d3d" stroke-opacity="0.35" stroke-width="0.8" stroke-dasharray="1.2,0.6"/>
<ellipse cx="85.6" cy="355.75" rx="6.51" ry="7.49" fill="#d63d3d" fill-opacity="0.8" stroke="#d63d3d" stroke-opacity="0.35" stroke-width="0.8" stroke-dasharray="1.2,0.6"/>
<ellipse cx="85.6" cy="364.3" rx="6.32" ry="7.28" fill="#d33333" fill-opacity="0.8" stroke="#d33333" stroke-opacity="0.35" stroke-width="0.8" stroke-dasharray="1.2,0.6"/>
<ellipse cx="83.8" cy="374.2" rx="6.88" ry="7.92" fill="#cc6fa6" fill-opacity="0.8" stroke="#cc6fa6" stroke-opacity="0.35" stroke-width="0.8" stroke-dasharray="1.2,0.6"/>
<ellipse cx="78" cy="382.4" rx="6.51" ry="7.49" fill="#c76daa" fill-opacity="0.8" stroke="#c76daa" stroke-opacity="0.35" stroke-width="0.8" stroke-dasharray="1.2,0.6"/>
<ellipse cx="76.9" cy="390.6" rx="6.70" ry="7.70" fill="#ce749c" fill-opacity="0.8" stroke="#ce749c" stroke-opacity="0.35" stroke-width="0.8" stroke-dasharray="1.2,0.6"/>
<ellipse cx="76" cy="398.8" rx="6.51" ry="7.49" fill="#d85963" fill-opacity="0.8" stroke="#d85963" stroke-opacity="0.35" stroke-width="0.8" stroke-dasharray="1.2,0.6"/>
<ellipse cx="71.3" cy="408.3" rx="5.67" ry="6.53" fill="#d84040" fill-opacity="0.8" stroke="#d84040" stroke-opacity="0.35" stroke-width="0.8" stroke-dasharray="1.2,0.6"/>
<ellipse cx="67.6" cy="416.8" rx="5.12" ry="5.89" fill="#d82b2b" fill-opacity="0.8" stroke="#d82b2b" stroke-opacity="0.35" stroke-width="0.8" stroke-dasharray="1.2,0.6"/>
</g>
<rect x="62.00" y="246.50" width="123.50" height="175.25" fill="none" stroke="#000" stroke-width="1.3"/>
<line x1="83.60" y1="421.75" x2="83.60" y2="425.05" stroke="#000" stroke-width="1.1"/>
<text x="83.60" y="437.45" font-size="8.8" text-anchor="middle" fill="#2b2b2b" textLength="13.00" lengthAdjust="spacingAndGlyphs" stroke="#2b2b2b" stroke-width="0.14">0.2</text>
<line x1="115.70" y1="421.75" x2="115.70" y2="425.05" stroke="#000" stroke-width="1.1"/>
<text x="115.70" y="437.45" font-size="8.8" text-anchor="middle" fill="#2b2b2b" textLength="13.00" lengthAdjust="spacingAndGlyphs" stroke="#2b2b2b" stroke-width="0.14">0.3</text>
<line x1="147.80" y1="421.75" x2="147.80" y2="425.05" stroke="#000" stroke-width="1.1"/>
<text x="147.80" y="437.45" font-size="8.8" text-anchor="middle" fill="#2b2b2b" textLength="13.00" lengthAdjust="spacingAndGlyphs" stroke="#2b2b2b" stroke-width="0.14">0.4</text>
<line x1="180.00" y1="421.75" x2="180.00" y2="425.05" stroke="#000" stroke-width="1.1"/>
<text x="180.00" y="437.45" font-size="8.8" text-anchor="middle" fill="#2b2b2b" textLength="13.00" lengthAdjust="spacingAndGlyphs" stroke="#2b2b2b" stroke-width="0.14">0.5</text>
<text x="123.75" y="453.30" font-size="11.2" text-anchor="middle" fill="#2b2b2b" textLength="40.70" lengthAdjust="spacingAndGlyphs" stroke="#2b2b2b" stroke-width="0.14">Gene ratio</text>
<text x="313.50" y="240.10" font-size="10.2" textLength="70.09" lengthAdjust="spacingAndGlyphs" stroke="#231f20" stroke-width="0.14">TNF/LT signature</text>
<text x="305.60" y="253.75" font-size="8.6" text-anchor="end" font-style="italic" textLength="32.37" lengthAdjust="spacingAndGlyphs" stroke="#231f20" stroke-width="0.14">HIVEP2</text>
<line x1="309.00" y1="250.75" x2="313.00" y2="250.75" stroke="#000" stroke-width="1.1"/>
<text x="305.60" y="262.49" font-size="8.6" text-anchor="end" font-style="italic" textLength="26.97" lengthAdjust="spacingAndGlyphs" stroke="#231f20" stroke-width="0.14">STAT2</text>
<line x1="309.00" y1="259.49" x2="313.00" y2="259.49" stroke="#000" stroke-width="1.1"/>
<text x="305.60" y="271.23" font-size="8.6" text-anchor="end" font-style="italic" textLength="32.87" lengthAdjust="spacingAndGlyphs" stroke="#231f20" stroke-width="0.14">ZNF382</text>
<line x1="309.00" y1="268.23" x2="313.00" y2="268.23" stroke="#000" stroke-width="1.1"/>
<text x="305.60" y="279.97" font-size="8.6" text-anchor="end" font-style="italic" textLength="19.72" lengthAdjust="spacingAndGlyphs" stroke="#231f20" stroke-width="0.14">IRF3</text>
<line x1="309.00" y1="276.97" x2="313.00" y2="276.97" stroke="#000" stroke-width="1.1"/>
<text x="305.60" y="288.71" font-size="8.6" text-anchor="end" font-style="italic" textLength="30.85" lengthAdjust="spacingAndGlyphs" stroke="#231f20" stroke-width="0.14">HDAC9</text>
<line x1="309.00" y1="285.71" x2="313.00" y2="285.71" stroke="#000" stroke-width="1.1"/>
<text x="305.60" y="297.45" font-size="8.6" text-anchor="end" font-style="italic" textLength="18.53" lengthAdjust="spacingAndGlyphs" stroke="#231f20" stroke-width="0.14">ATM</text>
<line x1="309.00" y1="294.45" x2="313.00" y2="294.45" stroke="#000" stroke-width="1.1"/>
<text x="305.60" y="306.19" font-size="8.6" text-anchor="end" font-style="italic" textLength="20.23" lengthAdjust="spacingAndGlyphs" stroke="#231f20" stroke-width="0.14">IRE1</text>
<line x1="309.00" y1="303.19" x2="313.00" y2="303.19" stroke="#000" stroke-width="1.1"/>
<text x="305.60" y="314.93" font-size="8.6" text-anchor="end" font-style="italic" textLength="26.97" lengthAdjust="spacingAndGlyphs" stroke="#231f20" stroke-width="0.14">STAT1</text>
<line x1="309.00" y1="311.93" x2="313.00" y2="311.93" stroke="#000" stroke-width="1.1"/>
<text x="305.60" y="323.67" font-size="8.6" text-anchor="end" font-style="italic" textLength="26.79" lengthAdjust="spacingAndGlyphs" stroke="#231f20" stroke-width="0.14">MYCN</text>
<line x1="309.00" y1="320.67" x2="313.00" y2="320.67" stroke="#000" stroke-width="1.1"/>
<text x="305.60" y="332.41" font-size="8.6" text-anchor="end" font-style="italic" textLength="20.22" lengthAdjust="spacingAndGlyphs" stroke="#231f20" stroke-width="0.14">MYC</text>
<line x1="309.00" y1="329.41" x2="313.00" y2="329.41" stroke="#000" stroke-width="1.1"/>
<text x="305.60" y="341.15" font-size="8.6" text-anchor="end" font-style="italic" textLength="23.77" lengthAdjust="spacingAndGlyphs" stroke="#231f20" stroke-width="0.14">Nfkb1</text>
<line x1="309.00" y1="338.15" x2="313.00" y2="338.15" stroke="#000" stroke-width="1.1"/>
<text x="305.60" y="349.89" font-size="8.6" text-anchor="end" font-style="italic" textLength="17.20" lengthAdjust="spacingAndGlyphs" stroke="#231f20" stroke-width="0.14">YY1</text>
<line x1="309.00" y1="346.89" x2="313.00" y2="346.89" stroke="#000" stroke-width="1.1"/>
<text x="305.60" y="358.63" font-size="8.6" text-anchor="end" font-style="italic" textLength="25.79" lengthAdjust="spacingAndGlyphs" stroke="#231f20" stroke-width="0.14">HIF1A</text>
<line x1="309.00" y1="355.63" x2="313.00" y2="355.63" stroke="#000" stroke-width="1.1"/>
<text x="305.60" y="367.37" font-size="8.6" text-anchor="end" font-style="italic" textLength="23.77" lengthAdjust="spacingAndGlyphs" stroke="#231f20" stroke-width="0.14">RELA</text>
<line x1="309.00" y1="364.37" x2="313.00" y2="364.37" stroke="#000" stroke-width="1.1"/>
<text x="305.60" y="376.11" font-size="8.6" text-anchor="end" font-style="italic" textLength="29.33" lengthAdjust="spacingAndGlyphs" stroke="#231f20" stroke-width="0.14">NFKB1</text>
<line x1="309.00" y1="373.11" x2="313.00" y2="373.11" stroke="#000" stroke-width="1.1"/>
<text x="305.60" y="384.85" font-size="8.6" text-anchor="end" font-style="italic" textLength="21.75" lengthAdjust="spacingAndGlyphs" stroke="#231f20" stroke-width="0.14">TP53</text>
<line x1="309.00" y1="381.85" x2="313.00" y2="381.85" stroke="#000" stroke-width="1.1"/>
<text x="305.60" y="393.59" font-size="8.6" text-anchor="end" font-style="italic" textLength="17.69" lengthAdjust="spacingAndGlyphs" stroke="#231f20" stroke-width="0.14">JUN</text>
<line x1="309.00" y1="390.59" x2="313.00" y2="390.59" stroke="#000" stroke-width="1.1"/>
<text x="305.60" y="402.33" font-size="8.6" text-anchor="end" font-style="italic" textLength="21.75" lengthAdjust="spacingAndGlyphs" stroke="#231f20" stroke-width="0.14">E2F1</text>
<line x1="309.00" y1="399.33" x2="313.00" y2="399.33" stroke="#000" stroke-width="1.1"/>
<text x="305.60" y="411.07" font-size="8.6" text-anchor="end" font-style="italic" textLength="26.97" lengthAdjust="spacingAndGlyphs" stroke="#231f20" stroke-width="0.14">STAT3</text>
<line x1="309.00" y1="408.07" x2="313.00" y2="408.07" stroke="#000" stroke-width="1.1"/>
<text x="305.60" y="419.81" font-size="8.6" text-anchor="end" font-style="italic" textLength="17.20" lengthAdjust="spacingAndGlyphs" stroke="#231f20" stroke-width="0.14">SP1</text>
<line x1="309.00" y1="416.81" x2="313.00" y2="416.81" stroke="#000" stroke-width="1.1"/>
<clipPath id="cptn"><rect x="313" y="246.5" width="123.5" height="175.25"/></clipPath>
<g clip-path="url(#cptn)">
<ellipse cx="431.5" cy="250.75" rx="12.09" ry="13.91" fill="#d85154" fill-opacity="0.8" stroke="#d85154" stroke-opacity="0.35" stroke-width="0.8" stroke-dasharray="1.2,0.6"/>
<ellipse cx="400.7" cy="260.2" rx="10.23" ry="11.77" fill="#d85b6a" fill-opacity="0.8" stroke="#d85b6a" stroke-opacity="0.35" stroke-width="0.8" stroke-dasharray="1.2,0.6"/>
<ellipse cx="379.5" cy="269" rx="7.44" ry="8.56" fill="#ce1a1a" fill-opacity="0.8" stroke="#ce1a1a" stroke-opacity="0.35" stroke-width="0.8" stroke-dasharray="1.2,0.6"/>
<ellipse cx="363.6" cy="276.6" rx="6.42" ry="7.38" fill="#d11818" fill-opacity="0.8" stroke="#d11818" stroke-opacity="0.35" stroke-width="0.8" stroke-dasharray="1.2,0.6"/>
<ellipse cx="362" cy="286" rx="6.98" ry="8.03" fill="#d33333" fill-opacity="0.8" stroke="#d33333" stroke-opacity="0.35" stroke-width="0.8" stroke-dasharray="1.2,0.6"/>
<ellipse cx="351" cy="295" rx="5.39" ry="6.21" fill="#d31010" fill-opacity="0.8" stroke="#d31010" stroke-opacity="0.35" stroke-width="0.8" stroke-dasharray="1.2,0.6"/>
<ellipse cx="350.5" cy="303.3" rx="7.44" ry="8.56" fill="#db6f7e" fill-opacity="0.8" stroke="#db6f7e" stroke-opacity="0.35" stroke-width="0.8" stroke-dasharray="1.2,0.6"/>
<ellipse cx="344" cy="311.4" rx="7.44" ry="8.56" fill="#bf6db0" fill-opacity="0.8" stroke="#bf6db0" stroke-opacity="0.35" stroke-width="0.8" stroke-dasharray="1.2,0.6"/>
<ellipse cx="342.6" cy="321.2" rx="6.14" ry="7.06" fill="#d32424" fill-opacity="0.8" stroke="#d32424" stroke-opacity="0.35" stroke-width="0.8" stroke-dasharray="1.2,0.6"/>
<ellipse cx="336.4" cy="329.7" rx="6.14" ry="7.06" fill="#d63d4c" fill-opacity="0.8" stroke="#d63d4c" stroke-opacity="0.35" stroke-width="0.8" stroke-dasharray="1.2,0.6"/>
<ellipse cx="332.6" cy="339.1" rx="7.07" ry="8.13" fill="#b872b8" fill-opacity="0.8" stroke="#b872b8" stroke-opacity="0.35" stroke-width="0.8" stroke-dasharray="1.2,0.6"/>
<ellipse cx="332" cy="348.3" rx="4.93" ry="5.67" fill="#d32424" fill-opacity="0.8" stroke="#d32424" stroke-opacity="0.35" stroke-width="0.8" stroke-dasharray="1.2,0.6"/>
<ellipse cx="332" cy="355.5" rx="4.46" ry="5.14" fill="#d30606" fill-opacity="0.8" stroke="#d30606" stroke-opacity="0.35" stroke-width="0.8" stroke-dasharray="1.2,0.6"/>
<ellipse cx="331.5" cy="364.5" rx="8.84" ry="10.17" fill="#5695db" fill-opacity="0.8" stroke="#5695db" stroke-opacity="0.35" stroke-width="0.8" stroke-dasharray="1.2,0.6"/>
<ellipse cx="330.2" cy="373.4" rx="7.91" ry="9.10" fill="#8888d3" fill-opacity="0.8" stroke="#8888d3" stroke-opacity="0.35" stroke-width="0.8" stroke-dasharray="1.2,0.6"/>
<ellipse cx="329" cy="382" rx="5.21" ry="5.99" fill="#d83838" fill-opacity="0.8" stroke="#d83838" stroke-opacity="0.35" stroke-width="0.8" stroke-dasharray="1.2,0.6"/>
<ellipse cx="328.7" cy="391" rx="5.30" ry="6.10" fill="#d84c4c" fill-opacity="0.8" stroke="#d84c4c" stroke-opacity="0.35" stroke-width="0.8" stroke-dasharray="1.2,0.6"/>
<ellipse cx="326.1" cy="399.7" rx="4.37" ry="5.03" fill="#d31f1f" fill-opacity="0.8" stroke="#d31f1f" stroke-opacity="0.35" stroke-width="0.8" stroke-dasharray="1.2,0.6"/>
<ellipse cx="324.7" cy="408.6" rx="4.09" ry="4.71" fill="#ce0101" fill-opacity="0.8" stroke="#ce0101" stroke-opacity="0.35" stroke-width="0.8" stroke-dasharray="1.2,0.6"/>
<ellipse cx="318.9" cy="416.8" rx="3.72" ry="4.28" fill="#d31818" fill-opacity="0.8" stroke="#d31818" stroke-opacity="0.35" stroke-width="0.8" stroke-dasharray="1.2,0.6"/>
</g>
<rect x="313.00" y="246.50" width="123.50" height="175.25" fill="none" stroke="#000" stroke-width="1.3"/>
<line x1="332.50" y1="421.75" x2="332.50" y2="425.05" stroke="#000" stroke-width="1.1"/>
<text x="332.50" y="437.45" font-size="8.8" text-anchor="middle" fill="#2b2b2b" textLength="13.00" lengthAdjust="spacingAndGlyphs" stroke="#2b2b2b" stroke-width="0.14">0.2</text>
<line x1="363.40" y1="421.75" x2="363.40" y2="425.05" stroke="#000" stroke-width="1.1"/>
<text x="363.40" y="437.45" font-size="8.8" text-anchor="middle" fill="#2b2b2b" textLength="13.00" lengthAdjust="spacingAndGlyphs" stroke="#2b2b2b" stroke-width="0.14">0.4</text>
<line x1="394.30" y1="421.75" x2="394.30" y2="425.05" stroke="#000" stroke-width="1.1"/>
<text x="394.30" y="437.45" font-size="8.8" text-anchor="middle" fill="#2b2b2b" textLength="13.00" lengthAdjust="spacingAndGlyphs" stroke="#2b2b2b" stroke-width="0.14">0.6</text>
<line x1="425.20" y1="421.75" x2="425.20" y2="425.05" stroke="#000" stroke-width="1.1"/>
<text x="425.20" y="437.45" font-size="8.8" text-anchor="middle" fill="#2b2b2b" textLength="13.00" lengthAdjust="spacingAndGlyphs" stroke="#2b2b2b" stroke-width="0.14">0.8</text>
<text x="374.75" y="453.30" font-size="11.2" text-anchor="middle" fill="#2b2b2b" textLength="40.70" lengthAdjust="spacingAndGlyphs" stroke="#2b2b2b" stroke-width="0.14">Gene ratio</text>
<text x="195.00" y="264.60" font-size="10.2" textLength="38.80" lengthAdjust="spacingAndGlyphs" stroke="#231f20" stroke-width="0.14">Combine</text>
<text x="195.00" y="276.00" font-size="10.2" textLength="25.34" lengthAdjust="spacingAndGlyphs" stroke="#231f20" stroke-width="0.14">Score</text>
<circle cx="211.25" cy="288.5" r="6.0" fill="#333" stroke="#1a1a1a" stroke-width="0.8"/>
<text x="221.30" y="292.10" font-size="10.2" textLength="10.45" lengthAdjust="spacingAndGlyphs" stroke="#231f20" stroke-width="0.14">20</text>
<circle cx="211.25" cy="305.5" r="7.1000000000000005" fill="#333" stroke="#1a1a1a" stroke-width="0.8"/>
<text x="221.30" y="309.10" font-size="10.2" textLength="10.45" lengthAdjust="spacingAndGlyphs" stroke="#231f20" stroke-width="0.14">30</text>
<circle cx="211.25" cy="327.5" r="8.1" fill="#333" stroke="#1a1a1a" stroke-width="0.8"/>
<text x="221.30" y="331.10" font-size="10.2" textLength="10.45" lengthAdjust="spacingAndGlyphs" stroke="#231f20" stroke-width="0.14">40</text>
<text x="195.00" y="353.50" font-size="10.2" textLength="66.00" lengthAdjust="spacingAndGlyphs" stroke="#231f20" stroke-width="0.14">-Log10(p.value)</text>
<defs><linearGradient id="g201" x1="0" y1="1" x2="0" y2="0"><stop offset="0" stop-color="#cf1c10"/><stop offset="0.16" stop-color="#d23a30"/><stop offset="0.47" stop-color="#d55f78"/><stop offset="0.62" stop-color="#c266a0"/><stop offset="0.78" stop-color="#8f70b8"/><stop offset="1" stop-color="#4a80d0"/></linearGradient></defs>
<rect x="201.30" y="361.20" width="9.90" height="49.30" fill="url(#g201)"/>
<line x1="201.30" y1="372.40" x2="203.50" y2="372.40" stroke="#fff" stroke-width="0.8"/>
<line x1="209.00" y1="372.40" x2="211.20" y2="372.40" stroke="#fff" stroke-width="0.8"/>
<text x="212.60" y="375.70" font-size="10.2" textLength="13.07" lengthAdjust="spacingAndGlyphs" stroke="#231f20" stroke-width="0.14">3.0</text>
<line x1="201.30" y1="387.40" x2="203.50" y2="387.40" stroke="#fff" stroke-width="0.8"/>
<line x1="209.00" y1="387.40" x2="211.20" y2="387.40" stroke="#fff" stroke-width="0.8"/>
<text x="212.60" y="390.70" font-size="10.2" textLength="13.07" lengthAdjust="spacingAndGlyphs" stroke="#231f20" stroke-width="0.14">2.5</text>
<line x1="201.30" y1="402.40" x2="203.50" y2="402.40" stroke="#fff" stroke-width="0.8"/>
<line x1="209.00" y1="402.40" x2="211.20" y2="402.40" stroke="#fff" stroke-width="0.8"/>
<text x="212.60" y="405.70" font-size="10.2" textLength="13.07" lengthAdjust="spacingAndGlyphs" stroke="#231f20" stroke-width="0.14">2.0</text>
<text x="444.50" y="265.60" font-size="10.2" textLength="38.80" lengthAdjust="spacingAndGlyphs" stroke="#231f20" stroke-width="0.14">Combine</text>
<text x="444.50" y="277.00" font-size="10.2" textLength="25.34" lengthAdjust="spacingAndGlyphs" stroke="#231f20" stroke-width="0.14">Score</text>
<circle cx="460.5" cy="287.5" r="5.8" fill="#333" stroke="#1a1a1a" stroke-width="0.8"/>
<text x="471.60" y="291.10" font-size="10.2" textLength="10.45" lengthAdjust="spacingAndGlyphs" stroke="#231f20" stroke-width="0.14">50</text>
<circle cx="460" cy="306.25" r="7.2" fill="#333" stroke="#1a1a1a" stroke-width="0.8"/>
<text x="471.60" y="309.85" font-size="10.2" textLength="15.68" lengthAdjust="spacingAndGlyphs" stroke="#231f20" stroke-width="0.14">100</text>
<circle cx="460" cy="326.75" r="8.0" fill="#333" stroke="#1a1a1a" stroke-width="0.8"/>
<text x="471.60" y="330.35" font-size="10.2" textLength="15.68" lengthAdjust="spacingAndGlyphs" stroke="#231f20" stroke-width="0.14">150</text>
<text x="444.50" y="353.75" font-size="10.2" textLength="66.00" lengthAdjust="spacingAndGlyphs" stroke="#231f20" stroke-width="0.14">-Log10(p.value)</text>
<defs><linearGradient id="g444" x1="0" y1="1" x2="0" y2="0"><stop offset="0" stop-color="#cf1c10"/><stop offset="0.16" stop-color="#d23a30"/><stop offset="0.47" stop-color="#d55f78"/><stop offset="0.62" stop-color="#c266a0"/><stop offset="0.78" stop-color="#8f70b8"/><stop offset="1" stop-color="#4a80d0"/></linearGradient></defs>
<rect x="444.30" y="360.20" width="12.00" height="54.20" fill="url(#g444)"/>
<line x1="444.30" y1="364.20" x2="446.50" y2="364.20" stroke="#fff" stroke-width="0.8"/>
<line x1="454.10" y1="364.20" x2="456.30" y2="364.20" stroke="#fff" stroke-width="0.8"/>
<text x="460.70" y="367.50" font-size="10.2" textLength="18.29" lengthAdjust="spacingAndGlyphs" stroke="#231f20" stroke-width="0.14">12.5</text>
<line x1="444.30" y1="377.70" x2="446.50" y2="377.70" stroke="#fff" stroke-width="0.8"/>
<line x1="454.10" y1="377.70" x2="456.30" y2="377.70" stroke="#fff" stroke-width="0.8"/>
<text x="460.70" y="381.00" font-size="10.2" textLength="10.45" lengthAdjust="spacingAndGlyphs" stroke="#231f20" stroke-width="0.14">10</text>
<line x1="444.30" y1="391.40" x2="446.50" y2="391.40" stroke="#fff" stroke-width="0.8"/>
<line x1="454.10" y1="391.40" x2="456.30" y2="391.40" stroke="#fff" stroke-width="0.8"/>
<text x="460.70" y="394.70" font-size="10.2" textLength="13.07" lengthAdjust="spacingAndGlyphs" stroke="#231f20" stroke-width="0.14">7.5</text>
<line x1="444.30" y1="405.00" x2="446.50" y2="405.00" stroke="#fff" stroke-width="0.8"/>
<line x1="454.10" y1="405.00" x2="456.30" y2="405.00" stroke="#fff" stroke-width="0.8"/>
<text x="460.70" y="408.30" font-size="10.2" textLength="5.23" lengthAdjust="spacingAndGlyphs" stroke="#231f20" stroke-width="0.14">5</text>
<line x1="61.80" y1="486.00" x2="61.80" y2="612.30" stroke="#000" stroke-width="1.3"/>
<line x1="61.20" y1="611.70" x2="206.30" y2="611.70" stroke="#000" stroke-width="1.3"/>
<line x1="58.60" y1="611.70" x2="61.80" y2="611.70" stroke="#000" stroke-width="1.1"/>
<line x1="60.00" y1="599.39" x2="61.80" y2="599.39" stroke="#000" stroke-width="0.8"/>
<line x1="60.00" y1="592.19" x2="61.80" y2="592.19" stroke="#000" stroke-width="0.8"/>
<line x1="60.00" y1="587.08" x2="61.80" y2="587.08" stroke="#000" stroke-width="0.8"/>
<line x1="60.00" y1="583.11" x2="61.80" y2="583.11" stroke="#000" stroke-width="0.8"/>
<line x1="60.00" y1="579.87" x2="61.80" y2="579.87" stroke="#000" stroke-width="0.8"/>
<line x1="60.00" y1="577.14" x2="61.80" y2="577.14" stroke="#000" stroke-width="0.8"/>
<line x1="60.00" y1="574.76" x2="61.80" y2="574.76" stroke="#000" stroke-width="0.8"/>
<line x1="60.00" y1="572.67" x2="61.80" y2="572.67" stroke="#000" stroke-width="0.8"/>
<text x="40.90" y="615.90" font-size="9.3" textLength="10.60" lengthAdjust="spacingAndGlyphs" stroke="#231f20" stroke-width="0.14">10</text>
<text x="51.60" y="611.10" font-size="6.2" stroke="#231f20" stroke-width="0.14">2</text>
<line x1="58.60" y1="570.80" x2="61.80" y2="570.80" stroke="#000" stroke-width="1.1"/>
<line x1="60.00" y1="558.49" x2="61.80" y2="558.49" stroke="#000" stroke-width="0.8"/>
<line x1="60.00" y1="551.29" x2="61.80" y2="551.29" stroke="#000" stroke-width="0.8"/>
<line x1="60.00" y1="546.18" x2="61.80" y2="546.18" stroke="#000" stroke-width="0.8"/>
<line x1="60.00" y1="542.21" x2="61.80" y2="542.21" stroke="#000" stroke-width="0.8"/>
<line x1="60.00" y1="538.97" x2="61.80" y2="538.97" stroke="#000" stroke-width="0.8"/>
<line x1="60.00" y1="536.24" x2="61.80" y2="536.24" stroke="#000" stroke-width="0.8"/>
<line x1="60.00" y1="533.86" x2="61.80" y2="533.86" stroke="#000" stroke-width="0.8"/>
<line x1="60.00" y1="531.77" x2="61.80" y2="531.77" stroke="#000" stroke-width="0.8"/>
<text x="40.90" y="575.00" font-size="9.3" textLength="10.60" lengthAdjust="spacingAndGlyphs" stroke="#231f20" stroke-width="0.14">10</text>
<text x="51.60" y="570.20" font-size="6.2" stroke="#231f20" stroke-width="0.14">3</text>
<line x1="58.60" y1="529.90" x2="61.80" y2="529.90" stroke="#000" stroke-width="1.1"/>
<line x1="60.00" y1="517.59" x2="61.80" y2="517.59" stroke="#000" stroke-width="0.8"/>
<line x1="60.00" y1="510.39" x2="61.80" y2="510.39" stroke="#000" stroke-width="0.8"/>
<line x1="60.00" y1="505.28" x2="61.80" y2="505.28" stroke="#000" stroke-width="0.8"/>
<line x1="60.00" y1="501.31" x2="61.80" y2="501.31" stroke="#000" stroke-width="0.8"/>
<line x1="60.00" y1="498.07" x2="61.80" y2="498.07" stroke="#000" stroke-width="0.8"/>
<line x1="60.00" y1="495.34" x2="61.80" y2="495.34" stroke="#000" stroke-width="0.8"/>
<line x1="60.00" y1="492.96" x2="61.80" y2="492.96" stroke="#000" stroke-width="0.8"/>
<line x1="60.00" y1="490.87" x2="61.80" y2="490.87" stroke="#000" stroke-width="0.8"/>
<text x="40.90" y="534.10" font-size="9.3" textLength="10.60" lengthAdjust="spacingAndGlyphs" stroke="#231f20" stroke-width="0.14">10</text>
<text x="51.60" y="529.30" font-size="6.2" stroke="#231f20" stroke-width="0.14">4</text>
<line x1="58.60" y1="489.00" x2="61.80" y2="489.00" stroke="#000" stroke-width="1.1"/>
<text x="40.90" y="493.20" font-size="9.3" textLength="10.60" lengthAdjust="spacingAndGlyphs" stroke="#231f20" stroke-width="0.14">10</text>
<text x="51.60" y="488.40" font-size="6.2" stroke="#231f20" stroke-width="0.14">5</text>
<text transform="translate(33.6,548.3) rotate(-90)" font-size="10.6" text-anchor="middle" fill="#231f20" stroke="#231f20" stroke-width="0.2" textLength="92" lengthAdjust="spacingAndGlyphs">GFP fluorescence (MFI)</text>
<line x1="72.50" y1="611.70" x2="72.50" y2="615.00" stroke="#000" stroke-width="1.1"/>
<line x1="93.00" y1="611.70" x2="93.00" y2="615.00" stroke="#000" stroke-width="1.1"/>
<line x1="113.20" y1="611.70" x2="113.20" y2="615.00" stroke="#000" stroke-width="1.1"/>
<line x1="133.80" y1="611.70" x2="133.80" y2="615.00" stroke="#000" stroke-width="1.1"/>
<line x1="154.40" y1="611.70" x2="154.40" y2="615.00" stroke="#000" stroke-width="1.1"/>
<line x1="175.00" y1="611.70" x2="175.00" y2="615.00" stroke="#000" stroke-width="1.1"/>
<line x1="195.30" y1="611.70" x2="195.30" y2="615.00" stroke="#000" stroke-width="1.1"/>
<text x="59.80" y="626.50" font-size="9.2" text-anchor="end" textLength="15.00" lengthAdjust="spacingAndGlyphs" stroke="#231f20" stroke-width="0.14">Gal.</text>
<text x="72.50" y="627.00" font-size="8.4" text-anchor="middle" >-</text>
<text x="93.00" y="627.00" font-size="8.4" text-anchor="middle" >-</text>
<text x="113.20" y="626.60" font-size="8.4" text-anchor="middle" >+</text>
<text x="133.80" y="627.00" font-size="8.4" text-anchor="middle" >-</text>
<text x="154.40" y="626.60" font-size="8.4" text-anchor="middle" >+</text>
<text x="175.00" y="627.00" font-size="8.4" text-anchor="middle" >-</text>
<text x="195.30" y="626.60" font-size="8.4" text-anchor="middle" >+</text>
<text x="72.90" y="638.80" font-size="9.2" text-anchor="middle" fill="#4f5d85" textLength="16.50" lengthAdjust="spacingAndGlyphs" >CTL</text>
<text x="104.40" y="638.80" font-size="9.2" text-anchor="middle" fill="#c02a50" textLength="23.50" lengthAdjust="spacingAndGlyphs" >TGFβ</text>
<text x="145.00" y="638.80" font-size="9.2" text-anchor="middle" fill="#3d5d9e" textLength="28.00" lengthAdjust="spacingAndGlyphs" >FL EVs</text>
<text x="186.30" y="638.80" font-size="9.2" text-anchor="middle" fill="#e89c36" textLength="43.50" lengthAdjust="spacingAndGlyphs" >TONS EVs</text>
<circle cx="65.80" cy="573.40" r="2.5" fill="#263a5e"/>
<circle cx="68.90" cy="574.00" r="2.5" fill="#263a5e"/>
<circle cx="72.20" cy="572.80" r="2.5" fill="#263a5e"/>
<circle cx="75.30" cy="573.60" r="2.5" fill="#263a5e"/>
<line x1="64.40" y1="573.40" x2="79.60" y2="573.40" stroke="#000" stroke-width="1.5"/>
<circle cx="85.80" cy="493.10" r="2.5" fill="#ae1038"/>
<circle cx="89.40" cy="495.25" r="2.5" fill="#ae1038"/>
<circle cx="92.75" cy="492.10" r="2.5" fill="#ae1038"/>
<circle cx="96.25" cy="495.00" r="2.5" fill="#ae1038"/>
<line x1="85.60" y1="494.00" x2="100.30" y2="494.00" stroke="#000" stroke-width="1.5"/>
<circle cx="106.30" cy="573.60" r="2.5" fill="#ae1038"/>
<circle cx="110.00" cy="574.00" r="2.5" fill="#ae1038"/>
<circle cx="113.70" cy="573.00" r="2.5" fill="#ae1038"/>
<circle cx="116.90" cy="573.80" r="2.5" fill="#ae1038"/>
<line x1="105.00" y1="573.60" x2="121.00" y2="573.60" stroke="#000" stroke-width="1.5"/>
<circle cx="126.60" cy="516.60" r="2.5" fill="#263a5e"/>
<circle cx="129.80" cy="516.00" r="2.5" fill="#263a5e"/>
<circle cx="133.20" cy="515.60" r="2.5" fill="#263a5e"/>
<circle cx="136.40" cy="516.80" r="2.5" fill="#263a5e"/>
<line x1="125.20" y1="516.30" x2="141.60" y2="516.30" stroke="#000" stroke-width="1.5"/>
<circle cx="147.60" cy="573.20" r="2.5" fill="#263a5e"/>
<circle cx="150.80" cy="572.60" r="2.5" fill="#263a5e"/>
<circle cx="154.20" cy="573.40" r="2.5" fill="#263a5e"/>
<circle cx="157.60" cy="573.00" r="2.5" fill="#263a5e"/>
<line x1="146.00" y1="573.00" x2="162.00" y2="573.00" stroke="#000" stroke-width="1.5"/>
<circle cx="167.80" cy="569.80" r="2.5" fill="#e79b2a"/>
<circle cx="171.00" cy="570.00" r="2.5" fill="#e79b2a"/>
<circle cx="175.00" cy="566.20" r="2.5" fill="#e79b2a"/>
<circle cx="177.50" cy="569.30" r="2.5" fill="#e79b2a"/>
<line x1="166.70" y1="569.50" x2="182.30" y2="569.50" stroke="#000" stroke-width="1.5"/>
<circle cx="188.60" cy="574.20" r="2.5" fill="#e79b2a"/>
<circle cx="191.80" cy="573.60" r="2.5" fill="#e79b2a"/>
<circle cx="195.20" cy="574.00" r="2.5" fill="#e79b2a"/>
<circle cx="198.40" cy="573.60" r="2.5" fill="#e79b2a"/>
<line x1="187.50" y1="573.90" x2="202.70" y2="573.90" stroke="#000" stroke-width="1.5"/>
<g style="isolation:isolate">
<rect x="148.00" y="481.20" width="69.00" height="59.40" fill="#fff"/>
<path d="M150.00,540.50 L150.00,540.50 L155.00,540.00 L160.00,539.50 L165.00,539.50 L170.00,539.00 L175.00,538.50 L179.00,537.50 L182.00,536.00 L185.00,534.00 L188.00,530.00 L190.00,526.00 L192.00,521.00 L194.00,514.00 L195.50,506.00 L196.20,497.00 L197.00,492.50 L198.50,492.00 L199.50,490.00 L200.50,491.00 L201.50,489.00 L202.50,490.00 L203.50,488.50 L204.50,492.00 L205.50,494.00 L206.50,500.00 L207.50,507.00 L208.50,514.00 L210.00,521.00 L211.50,527.00 L213.00,532.00 L214.50,536.00 L216.00,539.00 L217.00,540.50 L217.00,540.50 Z" fill="#e2a6b6" style="mix-blend-mode:multiply"/>
<polyline points="150.00,540.50 155.00,540.00 160.00,539.50 165.00,539.50 170.00,539.00 175.00,538.50 179.00,537.50 182.00,536.00 185.00,534.00 188.00,530.00 190.00,526.00 192.00,521.00 194.00,514.00 195.50,506.00 196.20,497.00 197.00,492.50 198.50,492.00 199.50,490.00 200.50,491.00 201.50,489.00 202.50,490.00 203.50,488.50 204.50,492.00 205.50,494.00 206.50,500.00 207.50,507.00 208.50,514.00 210.00,521.00 211.50,527.00 213.00,532.00 214.50,536.00 216.00,539.00 217.00,540.50" fill="none" stroke="#c0143c" stroke-width="1.1" stroke-linejoin="round"/>
<path d="M153.00,540.50 L153.00,540.50 L155.00,538.00 L158.00,535.00 L160.50,533.50 L162.00,536.00 L163.50,533.00 L165.00,530.00 L167.00,528.00 L169.00,525.00 L171.00,522.00 L173.00,517.00 L175.00,510.00 L176.50,505.00 L178.00,502.00 L179.00,497.00 L180.50,495.00 L181.50,491.00 L182.50,490.00 L183.30,485.00 L184.00,487.00 L184.80,484.50 L185.50,489.00 L186.20,485.00 L187.00,489.00 L188.00,492.00 L189.50,494.00 L191.00,497.00 L192.00,501.00 L193.50,508.00 L195.00,515.00 L196.50,521.00 L198.00,527.00 L200.00,533.00 L202.00,537.00 L204.30,539.50 L206.00,540.50 L206.00,540.50 Z" fill="#bcc6d8" style="mix-blend-mode:multiply"/>
<polyline points="153.00,540.50 155.00,538.00 158.00,535.00 160.50,533.50 162.00,536.00 163.50,533.00 165.00,530.00 167.00,528.00 169.00,525.00 171.00,522.00 173.00,517.00 175.00,510.00 176.50,505.00 178.00,502.00 179.00,497.00 180.50,495.00 181.50,491.00 182.50,490.00 183.30,485.00 184.00,487.00 184.80,484.50 185.50,489.00 186.20,485.00 187.00,489.00 188.00,492.00 189.50,494.00 191.00,497.00 192.00,501.00 193.50,508.00 195.00,515.00 196.50,521.00 198.00,527.00 200.00,533.00 202.00,537.00 204.30,539.50 206.00,540.50" fill="none" stroke="#2f4f8a" stroke-width="1.1" stroke-linejoin="round"/>
<path d="M148.80,540.50 L148.80,540.50 L150.50,533.00 L152.00,522.00 L153.50,508.00 L155.00,500.00 L156.50,494.00 L158.00,491.00 L159.20,493.00 L160.20,502.00 L161.00,514.00 L162.20,520.50 L163.50,523.00 L165.00,530.00 L168.00,534.00 L172.00,536.00 L178.00,537.50 L185.00,538.50 L190.00,539.50 L192.00,540.50 L192.00,540.50 Z" fill="#f8ddb0" style="mix-blend-mode:multiply"/>
<polyline points="148.80,540.50 150.50,533.00 152.00,522.00 153.50,508.00 155.00,500.00 156.50,494.00 158.00,491.00 159.20,493.00 160.20,502.00 161.00,514.00 162.20,520.50 163.50,523.00 165.00,530.00 168.00,534.00 172.00,536.00 178.00,537.50 185.00,538.50 190.00,539.50 192.00,540.50" fill="none" stroke="#e79b2a" stroke-width="1.1" stroke-linejoin="round"/>
<polyline points="149.50,540.50 151.00,532.00 152.50,518.00 154.00,505.00 155.70,498.00 157.00,500.00 158.50,512.00 160.00,528.00 161.50,534.00 163.00,535.00 165.00,537.00 168.00,539.00 172.00,540.50" fill="none" stroke="#2f4f8a" stroke-width="1.1" stroke-linejoin="round" stroke-dasharray="2,1.3"/>
</g>
<rect x="148.00" y="481.20" width="69.00" height="59.40" fill="none" stroke="#000" stroke-width="1.5"/>
<text x="182.40" y="550.40" font-size="8.4" text-anchor="middle" textLength="59.50" lengthAdjust="spacingAndGlyphs" stroke="#231f20" stroke-width="0.14">GFP fluorescence</text>
<g style="isolation:isolate">
<path d="M258.00,592.60 L258.00,592.10 L263.60,589.80 L270.30,585.40 L274.80,582.00 L278.10,576.50 L281.00,567.50 L282.60,559.70 L284.80,551.90 L287.00,538.50 L288.20,525.20 L289.90,514.00 L291.50,504.60 L292.60,502.80 L293.70,504.00 L294.80,501.10 L296.00,501.70 L297.10,506.20 L298.20,509.50 L299.30,518.50 L301.10,529.60 L302.70,537.40 L304.90,543.00 L306.40,554.20 L308.20,564.20 L310.50,569.80 L312.70,574.20 L314.90,578.70 L318.30,584.30 L321.60,588.70 L326.10,591.00 L330.50,592.10 L330.50,592.60 Z" fill="#e2a6b6" style="mix-blend-mode:multiply"/>
<polyline points="258.00,592.10 263.60,589.80 270.30,585.40 274.80,582.00 278.10,576.50 281.00,567.50 282.60,559.70 284.80,551.90 287.00,538.50 288.20,525.20 289.90,514.00 291.50,504.60 292.60,502.80 293.70,504.00 294.80,501.10 296.00,501.70 297.10,506.20 298.20,509.50 299.30,518.50 301.10,529.60 302.70,537.40 304.90,543.00 306.40,554.20 308.20,564.20 310.50,569.80 312.70,574.20 314.90,578.70 318.30,584.30 321.60,588.70 326.10,591.00 330.50,592.10" fill="none" stroke="#c0143c" stroke-width="1.2" stroke-linejoin="round"/>
<path d="M277.00,592.60 L277.00,592.10 L281.50,589.80 L285.90,586.50 L289.30,580.90 L291.50,572.00 L293.70,560.80 L295.30,549.70 L297.10,534.10 L298.90,520.70 L300.40,514.00 L302.00,507.30 L303.30,500.60 L304.20,498.80 L305.60,502.80 L306.40,507.30 L307.30,510.70 L308.20,511.80 L309.30,520.70 L310.50,531.80 L312.70,536.30 L314.90,543.00 L316.00,547.50 L317.20,554.20 L318.90,560.80 L321.20,569.80 L323.80,578.70 L327.20,585.40 L330.50,589.80 L335.00,592.10 L335.00,592.60 Z" fill="#bcc6d8" style="mix-blend-mode:multiply"/>
<polyline points="277.00,592.10 281.50,589.80 285.90,586.50 289.30,580.90 291.50,572.00 293.70,560.80 295.30,549.70 297.10,534.10 298.90,520.70 300.40,514.00 302.00,507.30 303.30,500.60 304.20,498.80 305.60,502.80 306.40,507.30 307.30,510.70 308.20,511.80 309.30,520.70 310.50,531.80 312.70,536.30 314.90,543.00 316.00,547.50 317.20,554.20 318.90,560.80 321.20,569.80 323.80,578.70 327.20,585.40 330.50,589.80 335.00,592.10" fill="none" stroke="#2f4f8a" stroke-width="1.2" stroke-linejoin="round"/>
<path d="M387.80,592.60 L387.80,592.10 L392.30,589.80 L395.70,585.40 L397.90,580.90 L400.10,574.20 L402.30,565.30 L404.60,554.20 L406.10,543.00 L407.90,529.60 L409.00,520.70 L410.20,511.80 L411.30,507.30 L411.90,504.00 L412.80,505.10 L413.50,507.30 L414.20,506.20 L414.60,509.50 L415.70,514.00 L416.80,518.50 L418.00,522.90 L419.50,531.80 L421.30,543.00 L423.10,551.90 L424.70,560.80 L426.90,569.80 L429.10,576.50 L431.30,583.10 L434.70,588.70 L439.20,592.10 L439.20,592.60 Z" fill="#e2a6b6" style="mix-blend-mode:multiply"/>
<polyline points="387.80,592.10 392.30,589.80 395.70,585.40 397.90,580.90 400.10,574.20 402.30,565.30 404.60,554.20 406.10,543.00 407.90,529.60 409.00,520.70 410.20,511.80 411.30,507.30 411.90,504.00 412.80,505.10 413.50,507.30 414.20,506.20 414.60,509.50 415.70,514.00 416.80,518.50 418.00,522.90 419.50,531.80 421.30,543.00 423.10,551.90 424.70,560.80 426.90,569.80 429.10,576.50 431.30,583.10 434.70,588.70 439.20,592.10" fill="none" stroke="#c0143c" stroke-width="1.2" stroke-linejoin="round"/>
<path d="M396.80,592.60 L396.80,592.10 L401.20,588.70 L404.60,583.10 L406.80,574.20 L408.40,563.10 L409.70,551.90 L410.80,540.80 L411.90,529.60 L412.80,518.50 L413.70,519.60 L414.60,509.50 L415.70,502.80 L416.80,498.40 L418.00,496.20 L419.10,497.30 L420.20,501.70 L421.30,507.30 L422.40,514.00 L423.50,522.90 L424.70,531.80 L425.80,540.80 L426.90,549.70 L428.40,558.60 L430.20,567.50 L432.50,576.50 L434.70,583.10 L436.90,587.60 L440.30,591.60 L443.60,592.50 L443.60,592.60 Z" fill="#bcc6d8" style="mix-blend-mode:multiply"/>
<polyline points="396.80,592.10 401.20,588.70 404.60,583.10 406.80,574.20 408.40,563.10 409.70,551.90 410.80,540.80 411.90,529.60 412.80,518.50 413.70,519.60 414.60,509.50 415.70,502.80 416.80,498.40 418.00,496.20 419.10,497.30 420.20,501.70 421.30,507.30 422.40,514.00 423.50,522.90 424.70,531.80 425.80,540.80 426.90,549.70 428.40,558.60 430.20,567.50 432.50,576.50 434.70,583.10 436.90,587.60 440.30,591.60 443.60,592.50" fill="none" stroke="#2f4f8a" stroke-width="1.2" stroke-linejoin="round"/>
</g>
<rect x="249.10" y="485.90" width="112.30" height="107.00" fill="none" stroke="#000" stroke-width="1.5"/>
<rect x="371.90" y="485.90" width="112.00" height="107.00" fill="none" stroke="#000" stroke-width="1.5"/>
<text x="305.20" y="604.80" font-size="9.2" text-anchor="middle" textLength="47.50" lengthAdjust="spacingAndGlyphs" stroke="#231f20" stroke-width="0.14">pSMAD2/3</text>
<text x="428.30" y="604.80" font-size="9.2" text-anchor="middle" textLength="22.50" lengthAdjust="spacingAndGlyphs" stroke="#231f20" stroke-width="0.14">pP38</text>
<rect x="431.2" y="495.5" width="16.6" height="8.8" rx="1.5" fill="#e2a6b6" stroke="#c0143c" stroke-width="1.2"/>
<rect x="431.2" y="509.6" width="16.6" height="8.8" rx="1.5" fill="#bcc6d8" stroke="#2f4f8a" stroke-width="1.2"/>
<text x="451.40" y="502.90" font-size="9.4" textLength="19.00" lengthAdjust="spacingAndGlyphs" stroke="#231f20" stroke-width="0.14">UNT</text>
<text x="451.40" y="517.00" font-size="9.4" textLength="28.30" lengthAdjust="spacingAndGlyphs" stroke="#231f20" stroke-width="0.14">FL EVs</text>
<rect x="62.50" y="710.60" width="20.80" height="18.40" fill="#4b2171"/>
<rect x="83.80" y="710.60" width="20.70" height="18.40" fill="#d97b9c"/>
<rect x="105.00" y="710.60" width="20.80" height="18.40" fill="#e3a5b3"/>
<rect x="126.80" y="710.60" width="21.00" height="18.40" fill="#d2548f"/>
<rect x="148.30" y="710.60" width="21.20" height="18.40" fill="#d2548f"/>
<rect x="62.50" y="729.80" width="20.80" height="17.20" fill="#4b2171"/>
<rect x="83.80" y="729.80" width="20.70" height="17.20" fill="#f6e0de"/>
<rect x="105.00" y="729.80" width="20.80" height="17.20" fill="#f0c8c6"/>
<rect x="126.80" y="729.80" width="21.00" height="17.20" fill="#fbf5f1"/>
<rect x="148.30" y="729.80" width="21.20" height="17.20" fill="#fbf5f1"/>
<rect x="238.00" y="705.00" width="20.50" height="19.40" fill="#4b2171"/>
<rect x="259.00" y="705.00" width="20.30" height="19.40" fill="#d47b9e"/>
<rect x="279.80" y="705.00" width="20.30" height="19.40" fill="#e1a6b6"/>
<rect x="300.60" y="705.00" width="20.40" height="19.40" fill="#e1a6b6"/>
<rect x="322.70" y="705.00" width="20.30" height="19.40" fill="#d36b98"/>
<rect x="343.50" y="705.00" width="20.50" height="19.40" fill="#d6719b"/>
<rect x="238.00" y="725.30" width="20.50" height="19.20" fill="#e3a7b5"/>
<rect x="259.00" y="725.30" width="20.30" height="19.20" fill="#e3a7b5"/>
<rect x="279.80" y="725.30" width="20.30" height="19.20" fill="#f5e1e0"/>
<rect x="300.60" y="725.30" width="20.40" height="19.20" fill="#f5e1e0"/>
<rect x="322.70" y="725.30" width="20.30" height="19.20" fill="#fbf5f0"/>
<rect x="343.50" y="725.30" width="20.50" height="19.20" fill="#efc6c3"/>
<text transform="translate(73.40,704.00) rotate(45)" font-size="9.4" text-anchor="end" fill="#231f20" textLength="37.61" lengthAdjust="spacingAndGlyphs">ANGPT1</text>
<text transform="translate(91.85,704.00) rotate(45)" font-size="9.4" text-anchor="end" fill="#231f20" textLength="31.86" lengthAdjust="spacingAndGlyphs">RUNX2</text>
<text transform="translate(112.10,704.50) rotate(45)" font-size="9.4" text-anchor="end" fill="#231f20" textLength="30.83" lengthAdjust="spacingAndGlyphs">EPHB4</text>
<text transform="translate(132.05,704.50) rotate(45)" font-size="9.4" text-anchor="end" fill="#231f20" textLength="27.15" lengthAdjust="spacingAndGlyphs">TGFBi</text>
<text transform="translate(154.15,704.00) rotate(45)" font-size="9.4" text-anchor="end" fill="#231f20" textLength="32.39" lengthAdjust="spacingAndGlyphs">SMAD7</text>
<text transform="translate(246.75,698.30) rotate(45)" font-size="9.4" text-anchor="end" fill="#231f20" textLength="37.61" lengthAdjust="spacingAndGlyphs">ANGPT1</text>
<text transform="translate(268.15,698.30) rotate(45)" font-size="9.4" text-anchor="end" fill="#231f20" textLength="35.53" lengthAdjust="spacingAndGlyphs">CXCL12</text>
<text transform="translate(289.70,698.30) rotate(45)" font-size="9.4" text-anchor="end" fill="#231f20" textLength="31.86" lengthAdjust="spacingAndGlyphs">RUNX2</text>
<text transform="translate(309.80,698.30) rotate(45)" font-size="9.4" text-anchor="end" fill="#231f20" textLength="30.83" lengthAdjust="spacingAndGlyphs">EPHB4</text>
<text transform="translate(331.85,698.30) rotate(45)" font-size="9.4" text-anchor="end" fill="#231f20" textLength="27.15" lengthAdjust="spacingAndGlyphs">TGFBi</text>
<text transform="translate(352.75,698.30) rotate(45)" font-size="9.4" text-anchor="end" fill="#231f20" textLength="32.39" lengthAdjust="spacingAndGlyphs">SMAD7</text>
<text x="9.50" y="731.20" font-size="9.4" textLength="28.00" lengthAdjust="spacingAndGlyphs" stroke="#231f20" stroke-width="0.14">FL EVs</text>
<text x="50.00" y="722.80" font-size="9.4" text-anchor="middle" fill="#3b5c9c" stroke="#3b5c9c" stroke-width="0.14">-</text>
<text x="50.00" y="741.00" font-size="9.4" text-anchor="middle" fill="#3b5c9c" stroke="#3b5c9c" stroke-width="0.14">+</text>
<text x="40.00" y="760.50" font-size="9.6" fill="#3b5c9c" textLength="18.50" lengthAdjust="spacingAndGlyphs" stroke="#3b5c9c" stroke-width="0.14">Gal.</text>
<text x="233.70" y="720.30" font-size="9.4" text-anchor="end" textLength="28.50" lengthAdjust="spacingAndGlyphs" stroke="#231f20" stroke-width="0.14">FL EVs</text>
<text x="233.70" y="739.60" font-size="9.4" text-anchor="end" textLength="43.50" lengthAdjust="spacingAndGlyphs" stroke="#231f20" stroke-width="0.14">TONS EVs</text>
<rect x="86.30" y="760.00" width="8.42" height="5.20" fill="#fdf4f1"/>
<rect x="94.42" y="760.00" width="8.42" height="5.20" fill="#f6dcdb"/>
<rect x="102.54" y="760.00" width="8.42" height="5.20" fill="#efc5c6"/>
<rect x="110.66" y="760.00" width="8.42" height="5.20" fill="#e6a6b6"/>
<rect x="118.78" y="760.00" width="8.42" height="5.20" fill="#dc81a1"/>
<rect x="126.90" y="760.00" width="8.42" height="5.20" fill="#d4588f"/>
<rect x="135.02" y="760.00" width="8.42" height="5.20" fill="#c92d88"/>
<rect x="143.14" y="760.00" width="8.42" height="5.20" fill="#a12585"/>
<rect x="151.26" y="760.00" width="8.42" height="5.20" fill="#722578"/>
<rect x="159.38" y="760.00" width="8.42" height="5.20" fill="#42186a"/>
<text x="101.80" y="776.20" font-size="8.8" text-anchor="middle" stroke="#231f20" stroke-width="0.14">1</text>
<text x="122.50" y="776.20" font-size="8.8" text-anchor="middle" stroke="#231f20" stroke-width="0.14">1.5</text>
<text x="140.50" y="776.20" font-size="8.8" text-anchor="middle" stroke="#231f20" stroke-width="0.14">2</text>
<text x="158.80" y="776.20" font-size="8.8" text-anchor="middle" stroke="#231f20" stroke-width="0.14">2.5</text>
<text x="122.60" y="759.40" font-size="9.0" stroke="#231f20" stroke-width="0.14">2</text>
<text x="127.80" y="754.60" font-size="4.6" >-ΔΔCt</text>
<rect x="279.50" y="760.00" width="8.47" height="5.20" fill="#fdf4f1"/>
<rect x="287.67" y="760.00" width="8.47" height="5.20" fill="#f6dcdb"/>
<rect x="295.84" y="760.00" width="8.47" height="5.20" fill="#efc5c6"/>
<rect x="304.01" y="760.00" width="8.47" height="5.20" fill="#e6a6b6"/>
<rect x="312.18" y="760.00" width="8.47" height="5.20" fill="#dc81a1"/>
<rect x="320.35" y="760.00" width="8.47" height="5.20" fill="#d4588f"/>
<rect x="328.52" y="760.00" width="8.47" height="5.20" fill="#c92d88"/>
<rect x="336.69" y="760.00" width="8.47" height="5.20" fill="#a12585"/>
<rect x="344.86" y="760.00" width="8.47" height="5.20" fill="#722578"/>
<rect x="353.03" y="760.00" width="8.47" height="5.20" fill="#42186a"/>
<text x="295.00" y="776.20" font-size="8.8" text-anchor="middle" stroke="#231f20" stroke-width="0.14">1</text>
<text x="315.50" y="776.20" font-size="8.8" text-anchor="middle" stroke="#231f20" stroke-width="0.14">1.5</text>
<text x="333.80" y="776.20" font-size="8.8" text-anchor="middle" stroke="#231f20" stroke-width="0.14">2</text>
<text x="352.50" y="776.20" font-size="8.8" text-anchor="middle" stroke="#231f20" stroke-width="0.14">2.5</text>
<text x="315.60" y="759.40" font-size="9.0" stroke="#231f20" stroke-width="0.14">2</text>
<text x="320.80" y="754.60" font-size="4.6" >-ΔΔCt</text>
</svg></body></html>
